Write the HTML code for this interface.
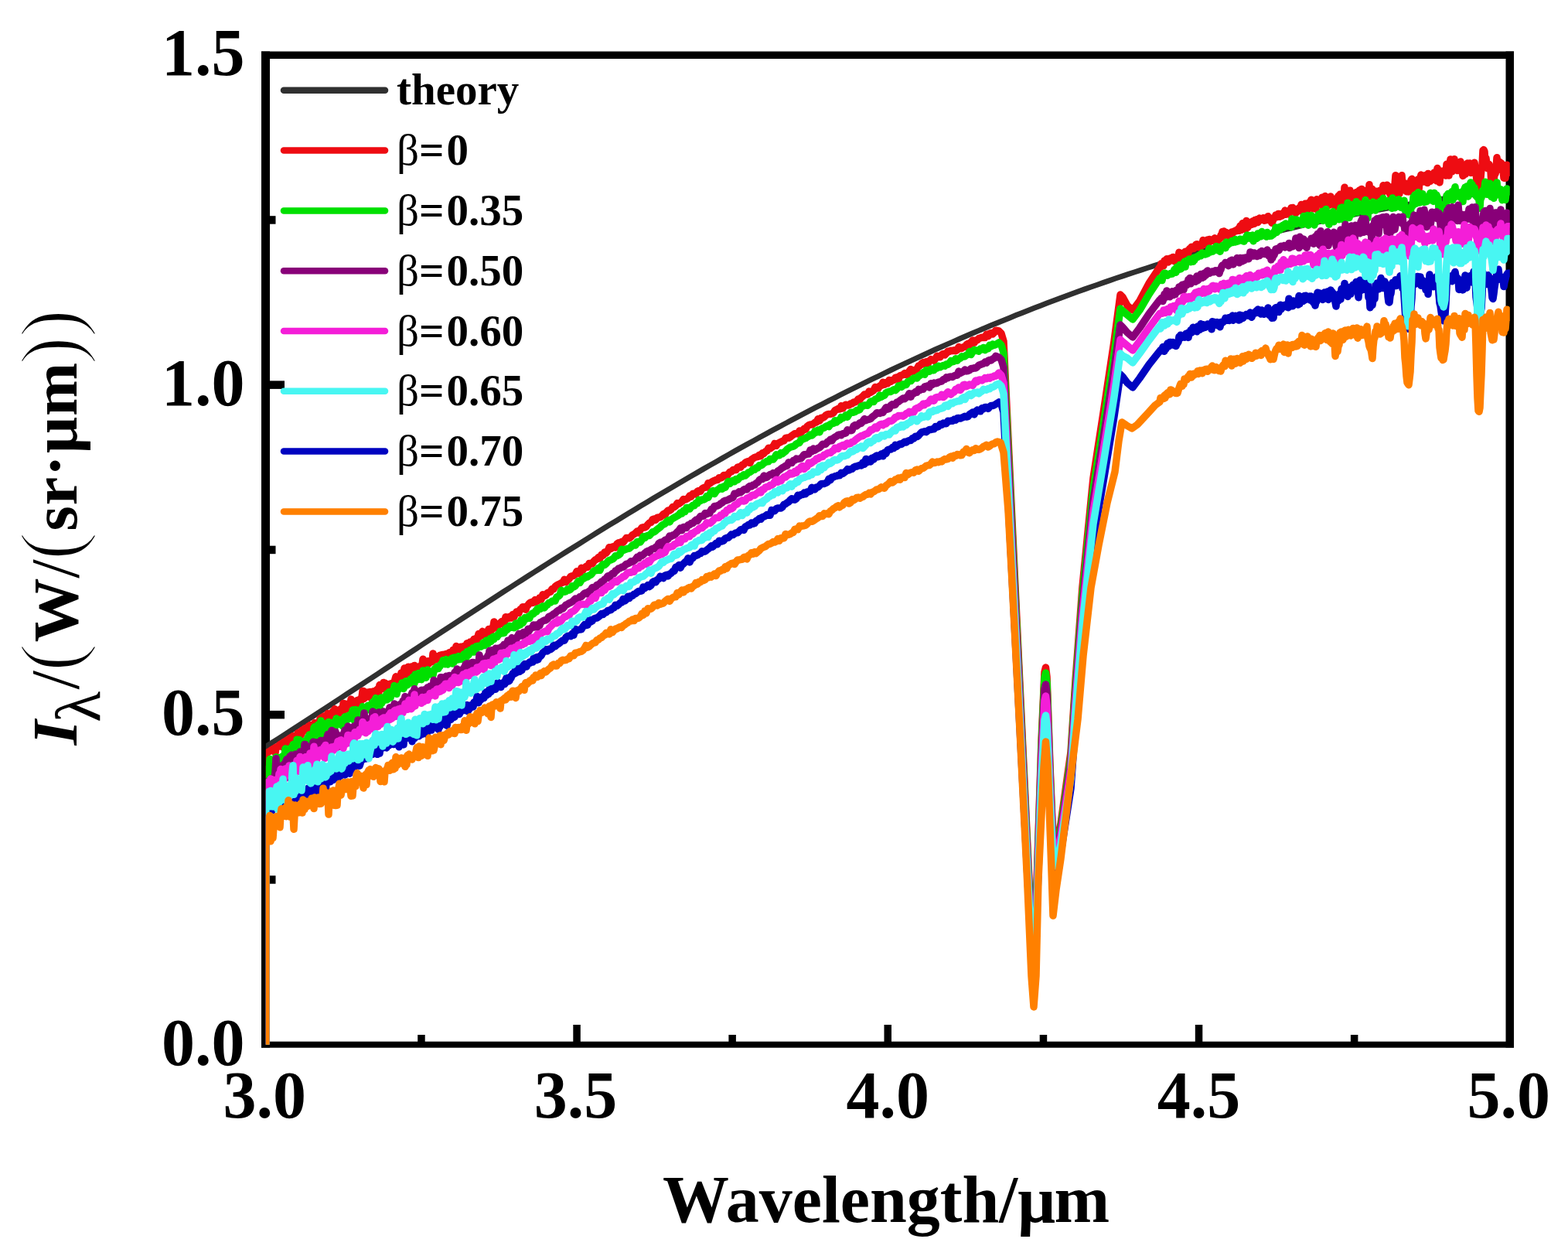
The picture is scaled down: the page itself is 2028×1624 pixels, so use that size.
<!DOCTYPE html>
<html><head><meta charset="utf-8"><title>Spectral radiance</title>
<style>html,body{margin:0;padding:0;background:#fff;overflow:hidden}svg{display:block}</style>
</head><body>
<svg width="2028" height="1624" viewBox="0 0 2028 1624">
<rect width="2028" height="1624" fill="#fff"/>
<defs><clipPath id="pa"><rect x="343.8" y="71.2" width="1609.0" height="1279.5"/></clipPath></defs>
<g fill="#000">
<rect x="338" y="66.5" width="11" height="1288"/>
<rect x="1947.5" y="66.5" width="10.5" height="1288"/>
<rect x="338" y="66.5" width="1620" height="9.5"/>
<rect x="338" y="1346.7" width="1620" height="8"/>
<rect x="540.2" y="1338" width="9.5" height="9"/>
<rect x="741.3" y="1325" width="9.5" height="22"/>
<rect x="942.4" y="1338" width="9.5" height="9"/>
<rect x="1143.5" y="1325" width="9.5" height="22"/>
<rect x="1344.7" y="1338" width="9.5" height="9"/>
<rect x="1545.8" y="1325" width="9.5" height="22"/>
<rect x="1746.9" y="1338" width="9.5" height="9"/>
<rect x="349" y="1132.2" width="7.5" height="10.5"/>
<rect x="349" y="918.9" width="19" height="10.5"/>
<rect x="349" y="705.7" width="7.5" height="10.5"/>
<rect x="349" y="492.4" width="19" height="10.5"/>
<rect x="349" y="279.2" width="7.5" height="10.5"/>
</g>
<g clip-path="url(#pa)" fill="none" stroke-width="9.5" stroke-linejoin="round" stroke-linecap="round">
<path stroke="#303030" stroke-width="7" d="M343.8 965.5L351.9 960.3L360.0 955.1L368.1 949.9L376.1 944.7L384.2 939.4L392.3 934.2L400.4 929.0L408.5 923.7L416.6 918.4L424.7 913.2L432.7 907.9L440.8 902.6L448.9 897.3L457.0 892.0L465.1 886.7L473.2 881.4L481.3 876.1L489.3 870.8L497.4 865.5L505.5 860.2L513.6 854.9L521.7 849.6L529.8 844.3L537.9 839.0L545.9 833.7L554.0 828.4L562.1 823.1L570.2 817.8L578.3 812.5L586.4 807.3L594.4 802.0L602.5 796.7L610.6 791.5L618.7 786.2L626.8 781.0L634.9 775.7L643.0 770.5L651.0 765.3L659.1 760.1L667.2 754.9L675.3 749.7L683.4 744.5L691.5 739.4L699.6 734.2L707.6 729.1L715.7 724.0L723.8 718.9L731.9 713.8L740.0 708.7L748.1 703.7L756.2 698.6L764.2 693.6L772.3 688.6L780.4 683.6L788.5 678.6L796.6 673.7L804.7 668.7L812.8 663.8L820.8 658.9L828.9 654.0L837.0 649.2L845.1 644.3L853.2 639.5L861.3 634.7L869.4 630.0L877.4 625.2L885.5 620.5L893.6 615.8L901.7 611.1L909.8 606.4L917.9 601.8L926.0 597.2L934.0 592.6L942.1 588.0L950.2 583.4L958.3 578.9L966.4 574.4L974.5 570.0L982.5 565.5L990.6 561.1L998.7 556.7L1006.8 552.4L1014.9 548.0L1023.0 543.7L1031.1 539.4L1039.1 535.2L1047.2 530.9L1055.3 526.7L1063.4 522.6L1071.5 518.4L1079.6 514.3L1087.7 510.2L1095.7 506.1L1103.8 502.1L1111.9 498.1L1120.0 494.1L1128.1 490.2L1136.2 486.3L1144.3 482.4L1152.3 478.5L1160.4 474.7L1168.5 470.9L1176.6 467.1L1184.7 463.4L1192.8 459.7L1200.9 456.0L1208.9 452.3L1217.0 448.7L1225.1 445.1L1233.2 441.6L1241.3 438.0L1249.4 434.5L1257.5 431.1L1265.5 427.6L1273.6 424.2L1281.7 420.8L1289.8 417.5L1297.9 414.2L1306.0 410.9L1314.1 407.6L1322.1 404.4L1330.2 401.2L1338.3 398.1L1346.4 394.9L1354.5 391.8L1362.6 388.8L1370.6 385.7L1378.7 382.7L1386.8 379.8L1394.9 376.8L1403.0 373.9L1411.1 371.0L1419.2 368.2L1427.2 365.4L1435.3 362.6L1443.4 359.8L1451.5 357.1L1459.6 354.4L1467.7 351.7L1475.8 349.1L1483.8 346.5L1491.9 343.9L1500.0 341.4L1508.1 338.9L1516.2 336.4L1524.3 333.9L1532.4 331.5L1540.4 329.1L1548.5 326.8L1556.6 324.4L1564.7 322.1L1572.8 319.9L1580.9 317.6L1589.0 315.4L1597.0 313.2L1605.1 311.1L1613.2 309.0L1621.3 306.9L1629.4 304.8L1637.5 302.8L1645.6 300.8L1653.6 298.8L1661.7 296.9L1669.8 295.0L1677.9 293.1L1686.0 291.2L1694.1 289.4L1702.2 287.6L1710.2 285.8L1718.3 284.1L1726.4 282.4L1734.5 280.7L1742.6 279.0L1750.7 277.4L1758.7 275.8L1766.8 274.2L1774.9 272.7L1783.0 271.2L1791.1 269.7L1799.2 268.2L1807.3 266.8L1815.3 265.4L1823.4 264.0L1831.5 262.6L1839.6 261.3L1847.7 260.0L1855.8 258.7L1863.9 257.5L1871.9 256.2L1880.0 255.1L1888.1 253.9L1896.2 252.7L1904.3 251.6L1912.4 250.5L1920.5 249.5L1928.5 248.4L1936.6 247.4L1944.7 246.4L1952.8 245.4"/>
<path stroke="#ee0c12" d="M343.8 1355.7L343.8 974.0L344.0 974.4L345.0 973.7L346.0 973.1L347.0 972.4L348.0 971.8L349.0 971.1L350.0 970.5L351.0 969.9L352.0 969.2L353.0 968.6L354.0 967.9L355.0 967.4L356.0 973.6L357.0 966.0L358.0 966.1L359.0 966.0L360.0 965.0L361.0 963.6L362.0 962.8L363.0 962.1L364.0 963.6L365.0 965.7L366.0 960.2L367.0 959.6L368.0 958.9L369.0 958.9L370.0 961.5L371.0 957.0L372.0 959.6L373.0 962.8L374.0 955.1L375.0 954.4L376.0 956.8L377.0 953.1L378.0 954.0L379.0 951.8L380.0 954.5L381.0 953.8L382.0 951.3L383.0 951.9L384.0 955.7L385.0 947.9L386.0 947.5L387.0 947.1L388.0 946.5L389.0 950.9L390.0 948.8L391.0 944.1L392.0 946.0L393.0 943.1L394.0 942.1L395.0 941.5L396.0 943.3L397.0 942.5L398.0 942.1L399.0 938.9L400.0 940.8L401.0 937.6L402.0 939.5L403.0 940.9L404.0 937.7L405.0 941.5L406.0 938.8L407.0 934.6L408.0 942.9L409.0 937.1L410.0 936.1L411.0 937.7L412.0 935.9L413.0 934.6L414.0 929.1L415.0 932.6L416.0 927.8L417.0 938.1L418.0 930.5L419.0 925.9L420.0 932.5L421.0 933.0L422.0 926.9L423.0 930.5L424.0 922.6L425.0 929.6L426.0 927.5L427.0 925.1L428.0 924.6L429.0 921.2L430.0 922.3L431.0 919.1L432.0 925.0L433.0 916.7L434.0 922.5L435.0 919.7L436.0 920.6L437.0 918.4L438.0 922.4L439.0 921.5L440.0 920.4L441.0 916.2L442.0 917.1L443.0 921.2L444.0 909.5L445.0 915.8L446.0 917.2L447.0 910.2L448.0 917.0L449.0 911.8L450.0 911.4L451.0 909.7L452.0 914.2L453.0 912.5L454.0 904.1L455.0 913.0L456.0 908.6L457.0 909.3L458.0 907.9L459.0 910.0L460.0 912.8L461.0 911.5L462.0 905.6L463.0 907.6L464.0 906.1L465.0 905.5L466.0 903.5L467.0 905.8L468.0 901.5L469.0 893.5L470.0 893.6L471.0 903.4L472.0 902.1L473.0 898.7L474.0 899.7L475.0 899.8L476.0 894.9L477.0 900.9L478.0 896.4L479.0 894.4L480.0 902.7L481.0 894.4L482.0 895.7L483.0 893.9L484.0 897.1L485.0 894.0L486.0 893.7L487.0 892.1L488.0 897.2L489.0 890.2L490.0 895.0L491.0 885.6L492.0 886.5L493.0 890.4L494.0 890.4L495.0 886.2L496.0 882.4L497.0 887.4L498.0 883.2L499.0 885.0L500.0 893.1L501.0 884.7L502.0 886.2L503.0 885.8L504.0 886.9L505.0 884.1L506.0 884.5L507.0 883.7L508.0 884.6L509.0 884.3L510.0 882.5L511.0 878.3L512.0 874.8L513.0 878.8L514.0 878.2L515.0 878.1L516.0 878.4L517.0 878.5L518.0 875.2L519.0 869.9L520.0 880.0L521.0 878.0L522.0 871.5L523.0 864.0L524.0 870.2L525.0 871.0L526.0 872.2L527.0 868.1L528.0 862.2L529.0 867.2L530.0 867.8L531.0 867.6L532.0 862.1L533.0 865.7L534.0 863.6L535.0 864.4L536.0 860.4L537.0 862.2L538.0 864.5L539.0 864.9L540.0 864.6L541.0 864.5L542.0 861.7L543.0 862.8L544.0 861.5L545.0 860.1L546.0 859.4L547.0 852.2L548.0 859.5L549.0 858.0L550.0 860.6L551.0 858.1L552.0 856.2L553.0 854.9L554.0 858.7L555.0 854.8L556.0 854.8L557.0 855.8L558.0 856.0L559.0 855.2L560.0 844.9L561.0 853.8L562.0 850.3L563.0 852.5L564.0 852.7L565.0 851.5L566.0 849.3L567.0 848.4L568.0 851.3L569.0 847.3L570.0 847.5L571.0 848.4L572.0 846.6L573.0 846.6L574.0 847.6L575.0 846.2L576.0 847.0L577.0 845.7L578.0 846.1L579.0 847.2L580.0 847.9L581.0 843.8L582.0 845.1L583.0 845.9L584.0 845.0L585.0 843.0L586.0 840.3L587.0 843.8L588.0 843.0L589.0 843.5L590.0 835.4L591.0 839.7L592.0 842.0L593.0 839.8L594.0 838.9L595.0 838.4L596.0 836.2L597.0 837.0L598.0 837.5L599.0 835.7L600.0 838.1L601.0 835.6L602.0 837.0L603.0 834.4L604.0 831.8L605.0 837.1L606.0 834.7L607.0 831.0L608.0 830.0L609.0 831.4L610.0 831.0L611.0 828.8L612.0 828.9L613.0 826.4L614.0 826.9L615.0 825.6L616.0 826.6L617.0 828.1L618.0 823.8L619.0 819.6L620.0 821.5L621.0 822.6L622.0 819.8L623.0 821.7L624.0 816.3L625.0 819.0L626.0 818.3L627.0 817.9L628.0 819.6L629.0 820.3L630.0 817.4L631.0 816.5L632.0 813.4L633.0 813.7L634.0 817.4L635.0 815.5L636.0 814.1L637.0 813.7L638.0 809.7L639.0 803.9L640.0 809.7L641.0 811.5L642.0 808.9L643.0 807.9L644.0 809.0L645.0 807.3L646.0 807.4L647.0 805.5L648.0 804.6L649.0 803.5L650.0 806.7L651.0 803.1L652.0 805.3L653.0 802.3L654.0 797.7L655.0 800.4L656.0 799.8L657.0 799.6L658.0 799.2L659.0 797.3L660.0 797.3L661.0 799.1L662.0 796.6L663.0 794.6L664.0 794.6L665.0 797.5L666.0 793.3L667.0 793.1L668.0 791.0L669.0 792.4L670.0 792.3L671.0 792.5L672.0 789.8L673.0 787.7L674.0 787.5L675.0 787.5L676.0 784.7L677.0 786.7L678.0 784.8L679.0 785.3L680.0 788.2L681.0 785.1L682.0 783.2L683.0 782.4L684.0 780.8L685.0 779.9L686.0 779.0L687.0 778.9L688.0 778.4L689.0 779.6L690.0 777.5L691.0 777.3L692.0 775.6L693.0 778.6L694.0 776.3L695.0 777.3L696.0 775.4L697.0 775.6L698.0 772.9L699.0 773.4L700.0 775.1L702.0 768.7L704.0 770.4L706.0 769.7L708.0 766.7L710.0 765.9L712.0 765.3L714.0 761.5L716.0 761.7L718.0 758.4L720.0 757.0L722.0 755.7L724.0 755.1L726.0 753.8L728.0 753.1L730.0 749.3L732.0 752.7L734.0 750.3L736.0 748.6L738.0 745.5L740.0 744.8L742.0 744.3L744.0 742.8L746.0 738.8L748.0 740.8L750.0 742.1L752.0 734.3L754.0 736.9L756.0 734.4L758.0 732.5L760.0 733.3L762.0 728.5L764.0 728.8L766.0 729.1L768.0 725.7L770.0 723.9L772.0 723.0L774.0 720.7L776.0 722.0L778.0 717.2L780.0 718.3L782.0 713.9L784.0 715.0L786.0 712.4L788.0 707.7L790.0 709.7L792.0 707.2L794.0 706.7L796.0 708.0L798.0 703.2L800.0 701.8L802.0 703.8L804.0 700.7L806.0 701.4L808.0 698.5L810.0 695.6L812.0 695.5L814.0 695.9L816.0 694.2L818.0 691.7L820.0 690.7L822.0 689.1L824.0 687.1L826.0 689.1L828.0 685.2L830.0 682.4L832.0 681.8L834.0 682.0L836.0 680.7L838.0 678.0L840.0 676.0L842.0 675.4L844.0 671.7L846.0 671.0L848.0 672.4L850.0 669.3L852.0 669.1L854.0 668.8L856.0 666.9L858.0 664.7L860.0 666.0L862.0 662.4L864.0 660.0L866.0 660.1L868.0 658.6L870.0 655.5L872.0 655.6L874.0 654.2L876.0 650.7L878.0 651.5L880.0 650.0L882.0 648.5L884.0 645.5L886.0 646.1L888.0 645.3L890.0 644.1L892.0 641.1L894.0 642.0L896.0 638.5L898.0 638.1L900.0 639.0L902.0 635.2L904.0 634.5L906.0 635.1L908.0 632.0L910.0 630.7L912.0 630.1L914.0 630.1L916.0 624.7L918.0 625.0L920.0 623.6L922.0 622.3L924.0 621.4L926.0 620.4L928.0 620.6L930.0 617.7L932.0 617.9L934.0 617.2L936.0 614.5L938.0 614.5L940.0 615.8L942.0 612.8L944.0 610.4L946.0 609.8L948.0 607.5L950.0 607.8L952.0 607.6L954.0 604.1L956.0 603.7L958.0 604.1L960.0 600.9L962.0 600.7L964.0 598.0L966.0 597.1L968.0 596.3L970.0 598.6L972.0 594.1L974.0 592.9L976.0 591.5L978.0 590.9L980.0 590.5L982.0 588.4L984.0 589.7L986.0 585.9L988.0 586.4L990.0 583.8L992.0 583.1L994.0 579.3L996.0 579.9L998.0 578.6L1000.0 577.2L1002.0 573.4L1004.0 576.3L1006.0 573.4L1008.0 572.3L1010.0 571.4L1012.0 570.3L1014.0 569.9L1016.0 566.6L1018.0 565.9L1020.0 566.3L1022.0 565.2L1024.0 563.4L1026.0 562.1L1028.0 560.7L1030.0 560.5L1032.0 561.0L1034.0 557.0L1036.0 559.3L1038.0 557.1L1040.0 554.4L1042.0 555.1L1044.0 551.2L1046.0 549.7L1048.0 549.0L1050.0 549.1L1052.0 548.0L1054.0 546.3L1056.0 546.0L1058.0 541.7L1060.0 544.0L1062.0 540.2L1064.0 540.2L1066.0 539.2L1068.0 537.1L1070.0 535.9L1072.0 535.5L1074.0 535.5L1076.0 535.0L1078.0 533.7L1080.0 530.6L1082.0 529.7L1084.0 528.4L1086.0 529.0L1088.0 524.8L1090.0 528.0L1092.0 524.6L1094.0 523.2L1096.0 524.0L1098.0 523.9L1100.0 522.1L1102.0 522.1L1104.0 519.9L1106.0 520.0L1108.0 518.8L1110.0 516.0L1112.0 516.7L1114.0 513.8L1116.0 512.4L1118.0 510.0L1120.0 509.8L1122.0 510.1L1124.0 506.0L1126.0 507.4L1128.0 506.0L1130.0 504.7L1132.0 500.4L1134.0 502.1L1136.0 502.0L1138.0 498.7L1140.0 498.6L1142.0 494.3L1144.0 497.3L1146.0 494.6L1148.0 495.8L1150.0 491.4L1152.0 493.6L1154.0 491.4L1156.0 491.6L1158.0 488.4L1160.0 487.9L1162.0 490.8L1164.0 485.8L1166.0 485.2L1168.0 484.7L1170.0 482.7L1172.0 484.5L1174.0 484.3L1176.0 480.0L1178.0 477.4L1180.0 480.4L1182.0 479.4L1184.0 478.0L1186.0 477.1L1188.0 473.0L1190.0 472.8L1192.0 470.0L1194.0 468.7L1196.0 470.7L1198.0 467.6L1200.0 470.4L1202.0 466.5L1204.0 464.7L1206.0 465.7L1208.0 466.3L1210.0 463.6L1212.0 460.3L1214.0 461.5L1216.0 461.7L1218.0 458.6L1220.0 457.5L1222.0 458.9L1224.0 456.8L1226.0 454.2L1228.0 454.6L1230.0 453.3L1232.0 453.7L1234.0 452.8L1236.0 453.8L1238.0 452.5L1240.0 448.6L1242.0 450.3L1244.0 450.4L1246.0 448.8L1248.0 448.6L1250.0 445.6L1252.0 444.4L1254.0 446.0L1256.0 442.3L1258.0 440.0L1260.0 443.3L1262.0 440.0L1264.0 439.8L1266.0 437.6L1268.0 437.0L1270.0 436.2L1272.0 436.5L1274.0 436.6L1276.0 432.2L1278.0 434.8L1280.0 431.3L1282.0 430.6L1284.0 431.9L1286.0 429.9L1288.0 427.2L1292.0 428.0L1295.0 431.0L1298.0 441.0L1300.0 483.3L1303.0 546.8L1306.0 610.3L1309.0 673.7L1312.0 737.2L1315.0 800.7L1318.0 864.2L1321.0 927.6L1324.0 991.1L1327.0 1054.6L1330.0 1118.1L1333.0 1181.5L1336.0 1245.0L1338.0 1240.0L1342.0 1111.3L1347.0 958.5L1351.0 869.0L1352.5 863.0L1354.0 875.0L1358.0 990.6L1362.0 1087.0L1365.0 1095.0L1372.0 1064.9L1385.0 972.5L1391.0 880.1L1400.0 758.6L1414.0 618.0L1428.0 527.6L1441.0 441.3L1449.0 381.0L1452.0 384.0L1458.0 395.0L1465.0 401.0L1474.0 389.0L1486.0 366.5L1500.0 345.4L1501.0 345.6L1502.0 340.7L1503.0 344.2L1504.0 342.0L1505.0 343.6L1506.0 337.1L1507.0 339.7L1508.0 337.8L1509.0 334.8L1510.0 336.2L1511.0 339.0L1512.0 335.4L1513.0 334.1L1514.0 337.0L1515.0 336.5L1516.0 335.9L1517.0 332.4L1518.0 334.7L1519.0 337.8L1520.0 334.5L1521.0 334.0L1522.0 337.1L1523.0 337.4L1524.0 331.1L1525.0 326.3L1526.0 328.1L1527.0 328.3L1528.0 329.3L1529.0 330.5L1530.0 328.8L1531.0 326.9L1532.0 328.1L1533.0 325.2L1534.0 326.4L1535.0 324.8L1536.0 330.6L1537.0 326.4L1538.0 322.4L1539.0 321.3L1540.0 322.4L1541.0 319.3L1542.0 319.9L1543.0 319.3L1544.0 321.4L1545.0 318.9L1546.0 317.4L1547.0 316.0L1548.0 315.7L1549.0 317.1L1550.0 316.6L1551.0 319.8L1552.0 315.9L1553.0 319.1L1554.0 316.6L1555.0 315.3L1556.0 310.6L1557.0 311.9L1558.0 314.8L1559.0 315.7L1560.0 312.5L1561.0 313.3L1562.0 310.0L1563.0 310.0L1564.0 309.4L1565.0 312.5L1566.0 311.3L1567.0 310.3L1568.0 309.8L1569.0 310.9L1570.0 310.1L1571.0 307.8L1572.0 312.0L1573.0 309.0L1574.0 308.7L1575.0 311.4L1576.0 310.5L1577.0 307.9L1578.0 308.4L1579.0 304.3L1580.0 304.2L1581.0 299.5L1582.0 305.7L1583.0 298.9L1584.0 304.2L1585.0 301.2L1586.0 300.6L1587.0 302.0L1588.0 303.2L1589.0 303.6L1590.0 305.7L1591.0 302.6L1592.0 303.5L1593.0 299.9L1594.0 301.8L1595.0 300.7L1596.0 298.9L1597.0 298.8L1598.0 298.1L1599.0 298.7L1600.0 298.6L1601.0 296.3L1602.0 295.3L1603.0 298.2L1604.0 292.1L1605.0 294.0L1606.0 297.3L1607.0 288.7L1608.0 291.9L1609.0 294.2L1610.0 289.0L1611.0 296.7L1612.0 285.4L1613.0 293.5L1614.0 293.9L1615.0 292.1L1616.0 289.3L1617.0 290.0L1618.0 287.3L1619.0 290.3L1620.0 286.1L1621.0 287.3L1622.0 289.5L1623.0 284.5L1624.0 286.1L1625.0 286.9L1626.0 283.5L1627.0 287.6L1628.0 286.0L1629.0 282.0L1630.0 284.8L1631.0 283.0L1632.0 283.2L1633.0 284.0L1634.0 281.7L1635.0 285.2L1636.0 282.3L1637.0 284.9L1638.0 282.0L1639.0 283.3L1640.0 279.7L1641.0 280.9L1642.0 281.3L1643.0 285.6L1644.0 286.0L1645.0 288.2L1646.0 286.1L1647.0 283.3L1648.0 281.3L1649.0 280.9L1650.0 278.0L1651.0 280.7L1652.0 279.6L1653.0 276.6L1654.0 276.5L1655.0 280.3L1656.0 277.9L1657.0 276.6L1658.0 279.1L1659.0 276.3L1660.0 276.6L1661.0 276.0L1662.0 272.1L1663.0 277.3L1664.0 272.9L1665.0 274.0L1666.0 273.9L1667.0 276.9L1668.0 273.7L1669.0 273.1L1670.0 268.8L1671.0 272.2L1672.0 268.4L1673.0 272.6L1674.0 272.6L1675.0 270.5L1676.0 275.7L1677.0 272.1L1678.0 272.1L1679.0 270.3L1680.0 269.0L1681.0 272.3L1682.0 272.8L1683.0 264.5L1684.0 271.7L1685.0 270.2L1686.0 271.1L1687.0 269.5L1688.0 263.3L1689.0 263.9L1690.0 274.6L1691.0 268.8L1692.0 262.5L1693.0 268.3L1694.0 265.5L1695.0 260.2L1696.0 258.2L1697.0 262.4L1698.0 269.8L1699.0 268.5L1700.0 267.6L1701.0 269.9L1702.0 270.2L1703.0 257.8L1704.0 263.6L1705.0 260.7L1706.0 257.9L1707.0 260.9L1708.0 262.3L1709.0 260.7L1710.0 255.2L1711.0 259.8L1712.0 270.6L1713.0 256.4L1714.0 253.5L1715.0 262.6L1716.0 263.8L1717.0 262.8L1718.0 255.3L1719.0 265.3L1720.0 256.0L1721.0 254.0L1722.0 256.3L1723.0 258.7L1724.0 263.0L1725.0 263.5L1726.0 261.2L1727.0 267.0L1728.0 262.7L1729.0 267.3L1730.0 255.3L1731.0 253.3L1732.0 263.5L1733.0 251.3L1734.0 255.4L1735.0 256.4L1736.0 253.6L1737.0 253.6L1738.0 262.0L1739.0 242.2L1740.0 258.8L1741.0 266.0L1742.0 254.0L1743.0 253.5L1744.0 256.6L1745.0 261.9L1746.0 246.3L1747.0 252.2L1748.0 251.3L1749.0 254.8L1750.0 253.0L1751.0 255.9L1752.0 250.1L1753.0 251.9L1754.0 248.6L1755.0 249.2L1756.0 251.7L1757.0 250.9L1758.0 246.1L1759.0 259.3L1760.0 250.9L1761.0 244.4L1762.0 257.1L1763.0 247.0L1764.0 253.1L1765.0 250.4L1766.0 250.9L1767.0 250.0L1768.0 245.9L1769.0 248.7L1770.0 259.6L1771.0 238.7L1772.0 251.1L1773.0 253.0L1774.0 245.6L1775.0 244.6L1776.0 261.8L1777.0 248.3L1778.0 259.0L1779.0 250.1L1780.0 247.3L1781.0 249.3L1782.0 249.0L1783.0 251.9L1784.0 247.9L1785.0 246.1L1786.0 245.9L1787.0 251.5L1788.0 248.7L1789.0 239.8L1790.0 241.2L1791.0 246.5L1792.0 241.0L1793.0 241.8L1794.0 239.2L1795.0 243.5L1796.0 247.2L1797.0 249.7L1798.0 244.5L1799.0 254.4L1800.0 241.7L1801.0 257.1L1802.0 245.5L1803.0 243.5L1804.0 238.8L1805.0 226.7L1806.0 240.0L1807.0 241.1L1808.0 249.5L1809.0 233.7L1810.0 250.2L1811.0 239.4L1812.0 244.2L1813.0 226.7L1814.0 240.1L1815.0 237.8L1816.0 244.8L1817.0 242.7L1818.0 237.1L1819.0 247.7L1820.0 247.0L1821.0 246.3L1822.0 247.9L1823.0 247.7L1824.0 240.9L1825.0 232.8L1826.0 231.3L1827.0 243.6L1828.0 240.4L1829.0 237.3L1830.0 234.2L1831.0 237.1L1832.0 236.2L1833.0 234.3L1834.0 232.0L1835.0 245.8L1836.0 235.2L1837.0 230.1L1838.0 226.0L1839.0 228.3L1840.0 234.9L1841.0 234.9L1842.0 232.0L1843.0 226.7L1844.0 234.3L1845.0 228.5L1846.0 236.6L1847.0 224.4L1848.0 231.0L1849.0 228.8L1850.0 234.3L1851.0 228.4L1852.0 230.6L1853.0 227.7L1854.0 225.8L1855.0 222.9L1856.0 230.3L1857.0 228.2L1858.0 233.8L1859.0 217.6L1860.0 221.3L1861.0 231.3L1862.0 235.9L1863.0 224.7L1864.0 221.2L1865.0 224.4L1866.0 226.3L1867.0 220.9L1868.0 220.5L1869.0 224.7L1870.0 227.1L1871.0 212.3L1872.0 219.5L1873.0 211.6L1874.0 227.0L1875.0 211.7L1876.0 206.0L1877.0 212.8L1878.0 221.8L1879.0 207.6L1880.0 214.9L1881.0 205.8L1882.0 215.2L1883.0 218.5L1884.0 215.1L1885.0 220.5L1886.0 211.9L1887.0 213.5L1888.0 217.8L1889.0 209.0L1890.0 213.1L1891.0 221.9L1892.0 227.4L1893.0 213.6L1894.0 218.0L1895.0 225.3L1896.0 213.8L1897.0 215.5L1898.0 211.1L1899.0 222.4L1900.0 221.1L1901.0 211.0L1902.0 223.5L1903.0 216.0L1904.0 215.8L1905.0 219.0L1906.0 219.5L1907.0 210.3L1908.0 216.5L1909.0 222.4L1910.0 235.9L1911.0 230.0L1912.0 242.5L1913.0 227.3L1914.0 232.0L1915.0 230.3L1916.0 218.7L1917.0 213.7L1918.0 194.4L1919.0 193.6L1920.0 195.9L1921.0 211.2L1922.0 204.7L1923.0 213.0L1924.0 217.9L1925.0 214.0L1926.0 212.5L1927.0 219.0L1928.0 221.0L1929.0 238.7L1930.0 230.0L1931.0 231.7L1932.0 236.6L1933.0 221.8L1934.0 225.0L1935.0 219.6L1936.0 203.8L1937.0 209.3L1938.0 210.4L1939.0 209.1L1940.0 210.3L1941.0 210.4L1942.0 211.2L1943.0 220.9L1944.0 218.7L1945.0 230.2L1946.0 225.8L1947.0 230.2L1948.0 219.1L1949.0 213.2L1950.0 223.0L1956.0 223.0"/>
<path stroke="#00e000" d="M343.8 1355.7L343.8 995.0L344.0 996.6L345.0 1007.1L346.0 1011.5L347.0 1002.5L348.0 997.4L349.0 981.6L350.0 987.5L351.0 986.6L352.0 998.1L353.0 990.6L354.0 993.3L355.0 989.2L356.0 995.9L357.0 978.9L358.0 984.1L359.0 989.9L360.0 979.8L361.0 984.4L362.0 981.6L363.0 979.9L364.0 984.1L365.0 978.1L366.0 979.5L367.0 980.2L368.0 979.7L369.0 968.1L370.0 973.6L371.0 980.2L372.0 979.3L373.0 975.7L374.0 971.1L375.0 967.9L376.0 967.1L377.0 967.3L378.0 972.0L379.0 962.6L380.0 970.0L381.0 971.5L382.0 969.9L383.0 969.9L384.0 956.2L385.0 961.2L386.0 967.2L387.0 956.6L388.0 970.0L389.0 959.6L390.0 961.5L391.0 958.6L392.0 962.5L393.0 970.2L394.0 960.7L395.0 958.4L396.0 964.9L397.0 958.0L398.0 953.6L399.0 959.3L400.0 950.0L401.0 953.7L402.0 959.3L403.0 950.0L404.0 958.8L405.0 950.4L406.0 941.0L407.0 939.7L408.0 952.1L409.0 956.3L410.0 948.5L411.0 937.3L412.0 957.3L413.0 943.5L414.0 943.5L415.0 931.9L416.0 935.9L417.0 946.3L418.0 935.3L419.0 949.2L420.0 937.1L421.0 936.9L422.0 936.1L423.0 937.5L424.0 939.3L425.0 933.5L426.0 936.3L427.0 946.3L428.0 944.1L429.0 934.5L430.0 939.8L431.0 937.3L432.0 940.0L433.0 941.7L434.0 933.9L435.0 929.0L436.0 933.1L437.0 930.8L438.0 930.5L439.0 936.2L440.0 932.4L441.0 934.4L442.0 930.6L443.0 938.8L444.0 931.1L445.0 932.6L446.0 926.8L447.0 932.6L448.0 931.3L449.0 926.0L450.0 930.2L451.0 926.7L452.0 926.3L453.0 923.8L454.0 924.2L455.0 929.1L456.0 918.3L457.0 917.8L458.0 931.4L459.0 920.3L460.0 917.5L461.0 926.6L462.0 925.1L463.0 920.2L464.0 918.3L465.0 921.9L466.0 922.5L467.0 919.9L468.0 917.7L469.0 913.5L470.0 917.3L471.0 923.2L472.0 916.1L473.0 915.2L474.0 918.1L475.0 918.0L476.0 912.2L477.0 915.3L478.0 913.1L479.0 914.5L480.0 910.6L481.0 912.7L482.0 907.8L483.0 907.5L484.0 905.9L485.0 910.7L486.0 902.6L487.0 913.4L488.0 908.9L489.0 907.6L490.0 908.8L491.0 914.3L492.0 904.9L493.0 902.1L494.0 908.8L495.0 905.4L496.0 902.0L497.0 902.9L498.0 900.4L499.0 904.9L500.0 897.2L501.0 904.7L502.0 901.8L503.0 894.7L504.0 895.5L505.0 902.3L506.0 898.6L507.0 893.8L508.0 892.2L509.0 893.6L510.0 886.6L511.0 896.1L512.0 888.1L513.0 897.3L514.0 891.9L515.0 889.3L516.0 891.1L517.0 888.6L518.0 886.1L519.0 888.6L520.0 883.0L521.0 883.9L522.0 890.5L523.0 887.3L524.0 885.5L525.0 880.7L526.0 882.5L527.0 885.7L528.0 881.9L529.0 883.8L530.0 881.4L531.0 877.9L532.0 883.0L533.0 879.3L534.0 875.2L535.0 883.4L536.0 883.3L537.0 872.0L538.0 873.2L539.0 872.4L540.0 875.7L541.0 870.6L542.0 878.4L543.0 875.6L544.0 877.2L545.0 878.7L546.0 872.2L547.0 866.9L548.0 875.9L549.0 874.0L550.0 876.2L551.0 876.2L552.0 873.0L553.0 866.0L554.0 870.7L555.0 868.8L556.0 871.6L557.0 868.6L558.0 872.0L559.0 870.1L560.0 872.8L561.0 868.0L562.0 865.1L563.0 865.9L564.0 863.3L565.0 862.1L566.0 864.6L567.0 864.6L568.0 862.1L569.0 861.7L570.0 859.0L571.0 858.9L572.0 858.9L573.0 853.7L574.0 854.3L575.0 856.6L576.0 858.7L577.0 852.6L578.0 857.2L579.0 859.0L580.0 855.7L581.0 857.0L582.0 857.4L583.0 854.9L584.0 851.3L585.0 858.0L586.0 850.4L587.0 856.3L588.0 850.0L589.0 851.6L590.0 851.5L591.0 851.9L592.0 853.1L593.0 848.6L594.0 850.5L595.0 852.5L596.0 852.2L597.0 852.2L598.0 851.3L599.0 848.9L600.0 845.8L601.0 849.4L602.0 846.1L603.0 850.6L604.0 842.4L605.0 845.2L606.0 846.9L607.0 842.4L608.0 840.5L609.0 843.4L610.0 842.3L611.0 840.2L612.0 837.7L613.0 843.1L614.0 838.8L615.0 841.6L616.0 835.7L617.0 838.3L618.0 835.3L619.0 835.9L620.0 836.4L621.0 835.3L622.0 836.2L623.0 834.5L624.0 832.3L625.0 830.9L626.0 831.6L627.0 834.5L628.0 830.6L629.0 828.1L630.0 832.3L631.0 832.2L632.0 827.4L633.0 829.2L634.0 825.6L635.0 829.5L636.0 827.4L637.0 825.9L638.0 823.3L639.0 826.4L640.0 822.9L641.0 822.8L642.0 823.2L643.0 823.3L644.0 820.5L645.0 820.8L646.0 818.3L647.0 816.4L648.0 818.5L649.0 818.3L650.0 818.8L651.0 815.9L652.0 818.4L653.0 813.8L654.0 815.7L655.0 811.8L656.0 814.3L657.0 813.1L658.0 812.1L659.0 809.3L660.0 810.5L661.0 811.0L662.0 811.2L663.0 810.1L664.0 810.9L665.0 811.8L666.0 807.8L667.0 806.1L668.0 810.4L669.0 805.8L670.0 808.3L671.0 808.5L672.0 806.6L673.0 807.8L674.0 801.6L675.0 804.3L676.0 805.5L677.0 804.0L678.0 800.6L679.0 798.6L680.0 800.6L681.0 799.1L682.0 799.7L683.0 797.9L684.0 796.6L685.0 799.2L686.0 795.8L687.0 795.2L688.0 793.3L689.0 792.9L690.0 793.7L691.0 792.7L692.0 791.4L693.0 789.7L694.0 790.9L695.0 787.1L696.0 788.1L697.0 787.8L698.0 786.2L699.0 787.3L700.0 785.3L702.0 784.0L704.0 786.0L706.0 783.1L708.0 782.0L710.0 779.4L712.0 779.1L714.0 777.4L716.0 776.8L718.0 776.9L720.0 772.0L722.0 771.2L724.0 769.4L726.0 763.3L728.0 764.8L730.0 765.2L732.0 764.6L734.0 761.9L736.0 762.9L738.0 761.9L740.0 757.8L742.0 759.0L744.0 757.8L746.0 754.6L748.0 751.4L750.0 753.5L752.0 749.9L754.0 748.3L756.0 747.5L758.0 745.2L760.0 746.0L762.0 744.0L764.0 743.4L766.0 741.2L768.0 738.2L770.0 737.6L772.0 737.4L774.0 734.5L776.0 737.3L778.0 731.6L780.0 729.6L782.0 730.5L784.0 728.7L786.0 726.2L788.0 724.4L790.0 724.1L792.0 723.1L794.0 721.6L796.0 718.8L798.0 718.6L800.0 717.7L802.0 716.2L804.0 710.2L806.0 711.6L808.0 710.7L810.0 710.0L812.0 709.4L814.0 709.0L816.0 707.2L818.0 705.0L820.0 703.9L822.0 704.9L824.0 700.6L826.0 700.5L828.0 701.0L830.0 698.1L832.0 693.7L834.0 695.5L836.0 693.1L838.0 692.3L840.0 692.5L842.0 690.2L844.0 687.8L846.0 688.0L848.0 686.3L850.0 684.4L852.0 683.1L854.0 681.5L856.0 679.3L858.0 678.1L860.0 677.3L862.0 674.8L864.0 673.0L866.0 675.0L868.0 671.7L870.0 670.5L872.0 669.2L874.0 668.2L876.0 667.0L878.0 665.9L880.0 663.2L882.0 664.0L884.0 660.4L886.0 661.6L888.0 656.5L890.0 656.5L892.0 658.0L894.0 655.4L896.0 653.5L898.0 653.7L900.0 650.4L902.0 650.7L904.0 646.3L906.0 647.6L908.0 646.0L910.0 646.0L912.0 645.2L914.0 641.6L916.0 643.2L918.0 639.2L920.0 636.0L922.0 634.5L924.0 638.5L926.0 635.5L928.0 633.5L930.0 632.2L932.0 630.4L934.0 632.2L936.0 629.1L938.0 630.2L940.0 626.4L942.0 622.4L944.0 625.3L946.0 622.6L948.0 621.4L950.0 622.8L952.0 619.6L954.0 620.5L956.0 618.1L958.0 616.1L960.0 616.3L962.0 613.8L964.0 614.9L966.0 613.2L968.0 610.9L970.0 610.5L972.0 609.0L974.0 606.8L976.0 607.3L978.0 604.7L980.0 604.9L982.0 601.8L984.0 601.9L986.0 601.0L988.0 598.3L990.0 597.8L992.0 596.3L994.0 596.8L996.0 593.5L998.0 593.7L1000.0 594.1L1002.0 591.5L1004.0 587.8L1006.0 588.7L1008.0 588.8L1010.0 585.6L1012.0 586.6L1014.0 584.9L1016.0 583.4L1018.0 581.0L1020.0 579.5L1022.0 578.3L1024.0 577.7L1026.0 577.2L1028.0 576.0L1030.0 573.9L1032.0 572.9L1034.0 572.5L1036.0 568.4L1038.0 568.2L1040.0 567.1L1042.0 566.5L1044.0 565.1L1046.0 564.0L1048.0 562.1L1050.0 563.0L1052.0 561.4L1054.0 557.6L1056.0 558.8L1058.0 556.0L1060.0 558.7L1062.0 554.7L1064.0 553.7L1066.0 553.2L1068.0 551.5L1070.0 550.6L1072.0 551.5L1074.0 548.5L1076.0 547.8L1078.0 547.4L1080.0 543.7L1082.0 546.0L1084.0 543.7L1086.0 543.2L1088.0 539.4L1090.0 540.6L1092.0 539.1L1094.0 536.8L1096.0 539.2L1098.0 535.8L1100.0 533.7L1102.0 533.2L1104.0 533.2L1106.0 532.4L1108.0 530.6L1110.0 530.4L1112.0 529.6L1114.0 525.2L1116.0 525.3L1118.0 524.0L1120.0 523.9L1122.0 524.3L1124.0 522.3L1126.0 519.1L1128.0 518.8L1130.0 519.4L1132.0 516.2L1134.0 515.5L1136.0 514.9L1138.0 511.0L1140.0 513.2L1142.0 511.8L1144.0 511.0L1146.0 507.8L1148.0 506.9L1150.0 506.2L1152.0 506.4L1154.0 505.0L1156.0 503.8L1158.0 504.6L1160.0 502.9L1162.0 499.1L1164.0 498.5L1166.0 500.5L1168.0 496.7L1170.0 498.0L1172.0 497.5L1174.0 493.7L1176.0 492.8L1178.0 492.6L1180.0 490.2L1182.0 488.9L1184.0 488.5L1186.0 489.0L1188.0 486.2L1190.0 485.3L1192.0 483.8L1194.0 481.5L1196.0 484.3L1198.0 478.4L1200.0 479.8L1202.0 480.3L1204.0 477.1L1206.0 478.7L1208.0 478.7L1210.0 475.2L1212.0 475.9L1214.0 473.2L1216.0 474.7L1218.0 473.4L1220.0 472.4L1222.0 473.2L1224.0 471.1L1226.0 471.3L1228.0 469.6L1230.0 466.5L1232.0 467.8L1234.0 467.2L1236.0 463.8L1238.0 466.3L1240.0 463.8L1242.0 463.2L1244.0 460.8L1246.0 461.2L1248.0 460.8L1250.0 459.0L1252.0 458.5L1254.0 454.6L1256.0 458.5L1258.0 454.4L1260.0 452.4L1262.0 453.5L1264.0 452.9L1266.0 454.1L1268.0 451.2L1270.0 451.9L1272.0 449.4L1274.0 452.7L1276.0 449.8L1278.0 450.8L1280.0 446.3L1282.0 447.8L1284.0 445.0L1286.0 446.3L1288.0 445.6L1292.0 443.0L1295.0 446.0L1298.0 456.0L1300.0 497.8L1303.0 560.5L1306.0 623.2L1309.0 685.8L1312.0 748.5L1315.0 811.2L1318.0 873.9L1321.0 936.6L1324.0 999.3L1327.0 1061.9L1330.0 1124.6L1333.0 1187.3L1336.0 1250.0L1338.0 1245.0L1342.0 1117.0L1347.0 965.0L1351.0 876.0L1352.5 870.0L1354.0 882.0L1358.0 996.5L1362.0 1092.0L1365.0 1100.0L1372.0 1070.4L1385.0 979.7L1391.0 889.0L1400.0 769.7L1414.0 631.7L1428.0 542.9L1441.0 458.2L1449.0 399.0L1452.0 402.0L1458.0 407.0L1465.0 413.0L1474.0 401.0L1486.0 380.5L1500.0 359.7L1501.0 361.4L1502.0 359.2L1503.0 362.6L1504.0 357.0L1505.0 354.2L1506.0 353.2L1507.0 353.3L1508.0 355.4L1509.0 354.8L1510.0 356.2L1511.0 354.5L1512.0 354.2L1513.0 354.7L1514.0 353.7L1515.0 354.2L1516.0 354.1L1517.0 352.9L1518.0 350.7L1519.0 348.5L1520.0 350.5L1521.0 352.2L1522.0 345.2L1523.0 348.1L1524.0 348.7L1525.0 344.1L1526.0 342.5L1527.0 347.9L1528.0 347.2L1529.0 343.1L1530.0 345.0L1531.0 344.9L1532.0 338.3L1533.0 345.0L1534.0 337.6L1535.0 338.6L1536.0 336.5L1537.0 338.1L1538.0 335.1L1539.0 337.4L1540.0 338.7L1541.0 336.9L1542.0 335.3L1543.0 338.3L1544.0 333.2L1545.0 336.2L1546.0 332.7L1547.0 332.8L1548.0 331.9L1549.0 332.4L1550.0 331.8L1551.0 329.9L1552.0 329.4L1553.0 330.8L1554.0 329.3L1555.0 327.0L1556.0 327.8L1557.0 327.9L1558.0 328.4L1559.0 328.9L1560.0 328.7L1561.0 327.0L1562.0 328.0L1563.0 324.7L1564.0 321.1L1565.0 326.2L1566.0 321.9L1567.0 323.2L1568.0 321.8L1569.0 324.9L1570.0 321.0L1571.0 322.5L1572.0 320.7L1573.0 318.6L1574.0 318.9L1575.0 323.6L1576.0 323.5L1577.0 324.4L1578.0 325.3L1579.0 321.1L1580.0 320.6L1581.0 317.5L1582.0 318.3L1583.0 316.9L1584.0 315.6L1585.0 320.7L1586.0 313.1L1587.0 317.4L1588.0 316.8L1589.0 315.6L1590.0 313.4L1591.0 314.3L1592.0 313.3L1593.0 311.6L1594.0 313.6L1595.0 311.5L1596.0 310.7L1597.0 313.1L1598.0 309.5L1599.0 312.5L1600.0 310.3L1601.0 312.0L1602.0 311.3L1603.0 311.2L1604.0 309.2L1605.0 309.5L1606.0 309.4L1607.0 311.5L1608.0 311.8L1609.0 312.1L1610.0 308.7L1611.0 309.5L1612.0 305.9L1613.0 304.1L1614.0 307.0L1615.0 306.9L1616.0 304.6L1617.0 304.8L1618.0 308.8L1619.0 305.8L1620.0 304.1L1621.0 311.7L1622.0 307.0L1623.0 305.4L1624.0 307.4L1625.0 304.5L1626.0 308.2L1627.0 302.0L1628.0 302.1L1629.0 303.7L1630.0 302.1L1631.0 305.7L1632.0 299.5L1633.0 301.2L1634.0 303.0L1635.0 303.7L1636.0 304.0L1637.0 302.8L1638.0 306.1L1639.0 300.4L1640.0 302.3L1641.0 305.3L1642.0 304.4L1643.0 305.2L1644.0 305.0L1645.0 304.6L1646.0 302.7L1647.0 302.8L1648.0 299.4L1649.0 300.9L1650.0 294.0L1651.0 300.6L1652.0 299.4L1653.0 297.7L1654.0 294.7L1655.0 293.5L1656.0 296.9L1657.0 293.8L1658.0 293.7L1659.0 291.4L1660.0 294.5L1661.0 290.2L1662.0 292.6L1663.0 289.0L1664.0 290.5L1665.0 292.4L1666.0 290.5L1667.0 290.0L1668.0 292.5L1669.0 290.3L1670.0 293.7L1671.0 283.0L1672.0 289.3L1673.0 289.0L1674.0 283.9L1675.0 284.0L1676.0 289.6L1677.0 284.0L1678.0 285.2L1679.0 288.3L1680.0 285.8L1681.0 288.7L1682.0 285.0L1683.0 288.0L1684.0 290.4L1685.0 288.2L1686.0 279.4L1687.0 288.0L1688.0 285.9L1689.0 282.3L1690.0 289.7L1691.0 278.4L1692.0 291.2L1693.0 282.0L1694.0 289.5L1695.0 283.6L1696.0 278.6L1697.0 285.2L1698.0 287.0L1699.0 288.8L1700.0 290.9L1701.0 282.2L1702.0 286.3L1703.0 286.3L1704.0 279.9L1705.0 277.5L1706.0 276.9L1707.0 283.8L1708.0 283.4L1709.0 275.8L1710.0 273.5L1711.0 285.4L1712.0 273.0L1713.0 280.7L1714.0 275.3L1715.0 270.5L1716.0 279.8L1717.0 278.3L1718.0 286.0L1719.0 290.2L1720.0 277.7L1721.0 283.3L1722.0 283.4L1723.0 275.2L1724.0 273.6L1725.0 286.7L1726.0 277.0L1727.0 279.5L1728.0 278.3L1729.0 279.6L1730.0 276.4L1731.0 282.3L1732.0 283.8L1733.0 274.8L1734.0 268.7L1735.0 275.9L1736.0 268.1L1737.0 272.0L1738.0 280.1L1739.0 285.5L1740.0 275.7L1741.0 268.5L1742.0 277.1L1743.0 262.2L1744.0 270.2L1745.0 281.4L1746.0 276.8L1747.0 266.3L1748.0 264.8L1749.0 276.7L1750.0 271.9L1751.0 268.6L1752.0 273.4L1753.0 268.1L1754.0 260.8L1755.0 274.6L1756.0 267.1L1757.0 264.8L1758.0 263.4L1759.0 271.1L1760.0 266.5L1761.0 272.7L1762.0 267.5L1763.0 274.2L1764.0 266.6L1765.0 265.3L1766.0 258.5L1767.0 261.9L1768.0 271.0L1769.0 281.7L1770.0 262.3L1771.0 264.4L1772.0 271.1L1773.0 272.3L1774.0 266.5L1775.0 270.0L1776.0 261.1L1777.0 266.5L1778.0 270.8L1779.0 272.0L1780.0 263.0L1781.0 262.7L1782.0 266.3L1783.0 269.1L1784.0 266.0L1785.0 260.3L1786.0 264.9L1787.0 267.9L1788.0 259.4L1789.0 256.3L1790.0 265.5L1791.0 263.9L1792.0 267.1L1793.0 262.7L1794.0 260.0L1795.0 261.9L1796.0 259.7L1797.0 260.2L1798.0 262.1L1799.0 261.7L1800.0 269.3L1801.0 255.9L1802.0 261.8L1803.0 258.4L1804.0 268.7L1805.0 262.6L1806.0 259.0L1807.0 264.9L1808.0 260.7L1809.0 257.7L1810.0 267.4L1811.0 262.7L1812.0 268.3L1813.0 265.6L1814.0 263.3L1815.0 261.0L1816.0 259.2L1817.0 271.8L1818.0 271.7L1819.0 277.1L1820.0 275.3L1821.0 272.6L1822.0 270.3L1823.0 277.8L1824.0 278.2L1825.0 267.3L1826.0 267.5L1827.0 266.3L1828.0 254.7L1829.0 257.1L1830.0 252.0L1831.0 263.4L1832.0 258.4L1833.0 254.5L1834.0 248.8L1835.0 255.4L1836.0 261.9L1837.0 255.6L1838.0 253.9L1839.0 259.5L1840.0 250.7L1841.0 257.1L1842.0 261.4L1843.0 254.4L1844.0 255.2L1845.0 260.7L1846.0 258.2L1847.0 256.9L1848.0 258.5L1849.0 256.1L1850.0 249.5L1851.0 250.5L1852.0 256.5L1853.0 259.6L1854.0 260.4L1855.0 249.6L1856.0 259.1L1857.0 256.1L1858.0 252.0L1859.0 254.8L1860.0 256.1L1861.0 270.2L1862.0 263.7L1863.0 277.3L1864.0 277.4L1865.0 279.9L1866.0 288.0L1867.0 285.4L1868.0 273.7L1869.0 272.9L1870.0 268.7L1871.0 252.8L1872.0 255.1L1873.0 250.4L1874.0 250.9L1875.0 251.3L1876.0 258.3L1877.0 249.3L1878.0 247.7L1879.0 258.3L1880.0 247.2L1881.0 246.4L1882.0 241.7L1883.0 254.2L1884.0 250.5L1885.0 251.6L1886.0 249.8L1887.0 250.3L1888.0 248.9L1889.0 250.0L1890.0 256.3L1891.0 254.7L1892.0 260.6L1893.0 246.4L1894.0 244.7L1895.0 242.1L1896.0 253.8L1897.0 241.1L1898.0 250.7L1899.0 254.0L1900.0 246.3L1901.0 250.7L1902.0 236.1L1903.0 245.6L1904.0 238.7L1905.0 248.2L1906.0 247.2L1907.0 242.6L1908.0 251.5L1909.0 253.5L1910.0 252.9L1911.0 255.8L1912.0 252.2L1913.0 259.0L1914.0 269.3L1915.0 253.0L1916.0 255.8L1917.0 246.8L1918.0 247.7L1919.0 245.8L1920.0 242.8L1921.0 235.2L1922.0 242.2L1923.0 251.3L1924.0 244.3L1925.0 249.0L1926.0 243.3L1927.0 237.2L1928.0 252.6L1929.0 254.6L1930.0 251.3L1931.0 253.3L1932.0 256.3L1933.0 250.7L1934.0 253.2L1935.0 247.0L1936.0 236.0L1937.0 246.8L1938.0 244.7L1939.0 244.1L1940.0 249.4L1941.0 244.8L1942.0 253.6L1943.0 258.7L1944.0 255.8L1945.0 247.8L1946.0 251.6L1947.0 258.4L1948.0 250.1L1949.0 243.9L1950.0 247.8L1956.0 247.8"/>
<path stroke="#880078" d="M343.8 1355.7L343.8 1012.0L344.0 1017.5L345.0 1013.0L346.0 1021.6L347.0 1010.2L348.0 1011.2L349.0 1009.5L350.0 1018.8L351.0 1010.3L352.0 1009.7L353.0 1008.5L354.0 1017.4L355.0 1005.7L356.0 999.3L357.0 980.8L358.0 1008.5L359.0 1003.3L360.0 997.2L361.0 1003.7L362.0 1011.2L363.0 997.8L364.0 994.3L365.0 996.0L366.0 989.1L367.0 995.5L368.0 987.4L369.0 988.3L370.0 983.9L371.0 981.6L372.0 990.6L373.0 1005.4L374.0 988.3L375.0 977.8L376.0 986.6L377.0 976.3L378.0 984.9L379.0 982.7L380.0 985.5L381.0 986.7L382.0 975.3L383.0 989.3L384.0 991.7L385.0 981.0L386.0 982.8L387.0 983.2L388.0 972.1L389.0 985.2L390.0 981.1L391.0 978.1L392.0 971.0L393.0 980.1L394.0 962.4L395.0 962.7L396.0 979.0L397.0 970.5L398.0 972.3L399.0 978.6L400.0 965.8L401.0 970.7L402.0 972.2L403.0 978.5L404.0 974.7L405.0 959.2L406.0 965.2L407.0 967.5L408.0 978.0L409.0 959.9L410.0 972.9L411.0 968.7L412.0 966.5L413.0 963.3L414.0 958.7L415.0 957.4L416.0 965.4L417.0 959.6L418.0 969.8L419.0 959.1L420.0 956.8L421.0 958.9L422.0 958.9L423.0 953.8L424.0 949.6L425.0 956.7L426.0 954.0L427.0 962.5L428.0 958.0L429.0 944.5L430.0 959.1L431.0 955.9L432.0 955.4L433.0 951.0L434.0 946.5L435.0 958.2L436.0 966.4L437.0 958.3L438.0 964.7L439.0 951.3L440.0 960.8L441.0 953.1L442.0 957.2L443.0 950.7L444.0 962.5L445.0 947.0L446.0 944.1L447.0 951.9L448.0 960.0L449.0 945.9L450.0 939.1L451.0 943.1L452.0 950.6L453.0 948.7L454.0 942.9L455.0 947.6L456.0 942.1L457.0 945.6L458.0 938.9L459.0 946.6L460.0 937.9L461.0 942.1L462.0 946.0L463.0 930.9L464.0 944.1L465.0 947.1L466.0 937.7L467.0 944.5L468.0 939.7L469.0 936.9L470.0 934.0L471.0 921.9L472.0 933.3L473.0 936.7L474.0 936.5L475.0 929.3L476.0 941.0L477.0 931.2L478.0 935.5L479.0 933.8L480.0 932.3L481.0 931.2L482.0 920.1L483.0 937.9L484.0 921.6L485.0 929.9L486.0 932.2L487.0 930.6L488.0 923.2L489.0 922.3L490.0 921.1L491.0 932.8L492.0 933.1L493.0 924.7L494.0 923.8L495.0 931.5L496.0 919.9L497.0 922.9L498.0 920.4L499.0 925.7L500.0 930.2L501.0 920.0L502.0 920.9L503.0 918.9L504.0 914.8L505.0 922.0L506.0 923.5L507.0 919.9L508.0 924.1L509.0 918.4L510.0 909.9L511.0 919.3L512.0 914.4L513.0 912.4L514.0 916.5L515.0 918.0L516.0 912.8L517.0 910.8L518.0 915.8L519.0 912.1L520.0 914.4L521.0 906.3L522.0 907.9L523.0 905.2L524.0 900.6L525.0 901.7L526.0 907.2L527.0 908.3L528.0 903.8L529.0 906.7L530.0 900.8L531.0 905.3L532.0 898.2L533.0 895.7L534.0 902.0L535.0 900.7L536.0 890.7L537.0 901.1L538.0 896.6L539.0 905.6L540.0 900.7L541.0 896.8L542.0 894.1L543.0 897.7L544.0 894.9L545.0 892.3L546.0 898.7L547.0 893.1L548.0 896.7L549.0 891.8L550.0 895.0L551.0 893.9L552.0 891.4L553.0 888.8L554.0 894.5L555.0 897.5L556.0 887.3L557.0 891.9L558.0 888.7L559.0 890.1L560.0 897.1L561.0 879.6L562.0 883.6L563.0 886.8L564.0 882.4L565.0 885.0L566.0 888.3L567.0 884.8L568.0 880.7L569.0 890.3L570.0 875.7L571.0 875.8L572.0 876.0L573.0 881.9L574.0 880.4L575.0 884.2L576.0 879.7L577.0 874.3L578.0 886.5L579.0 879.1L580.0 878.6L581.0 873.4L582.0 882.5L583.0 880.9L584.0 880.2L585.0 876.5L586.0 877.3L587.0 876.4L588.0 869.2L589.0 880.2L590.0 874.3L591.0 864.9L592.0 874.2L593.0 866.2L594.0 879.8L595.0 870.5L596.0 868.2L597.0 868.9L598.0 870.7L599.0 865.1L600.0 863.4L601.0 869.0L602.0 859.1L603.0 867.7L604.0 857.9L605.0 863.0L606.0 861.3L607.0 858.5L608.0 860.4L609.0 863.8L610.0 863.0L611.0 856.4L612.0 856.4L613.0 866.7L614.0 862.8L615.0 858.9L616.0 859.5L617.0 858.6L618.0 857.0L619.0 859.0L620.0 847.0L621.0 852.6L622.0 853.6L623.0 852.4L624.0 857.8L625.0 854.4L626.0 852.5L627.0 854.9L628.0 851.5L629.0 852.4L630.0 850.1L631.0 847.6L632.0 849.4L633.0 841.4L634.0 845.9L635.0 847.0L636.0 840.8L637.0 843.5L638.0 844.1L639.0 844.1L640.0 840.4L641.0 838.3L642.0 841.0L643.0 838.7L644.0 838.3L645.0 838.0L646.0 839.7L647.0 838.4L648.0 836.8L649.0 840.3L650.0 835.6L651.0 835.1L652.0 833.2L653.0 837.7L654.0 833.8L655.0 833.7L656.0 830.8L657.0 828.2L658.0 830.1L659.0 834.3L660.0 832.8L661.0 829.5L662.0 824.6L663.0 826.9L664.0 825.7L665.0 829.8L666.0 826.9L667.0 829.7L668.0 826.0L669.0 823.0L670.0 822.6L671.0 819.4L672.0 822.5L673.0 820.1L674.0 821.8L675.0 819.6L676.0 822.1L677.0 817.5L678.0 818.6L679.0 820.8L680.0 817.9L681.0 817.4L682.0 817.7L683.0 813.3L684.0 816.4L685.0 814.2L686.0 813.2L687.0 812.1L688.0 811.4L689.0 810.9L690.0 808.0L691.0 810.9L692.0 809.7L693.0 808.0L694.0 808.7L695.0 811.1L696.0 808.1L697.0 806.8L698.0 808.7L699.0 804.8L700.0 804.7L702.0 803.0L704.0 802.1L706.0 801.9L708.0 800.3L710.0 797.2L712.0 796.6L714.0 795.6L716.0 793.7L718.0 793.0L720.0 790.8L722.0 789.3L724.0 789.0L726.0 786.4L728.0 786.9L730.0 784.5L732.0 782.1L734.0 781.3L736.0 780.0L738.0 779.2L740.0 778.0L742.0 776.3L744.0 774.2L746.0 775.9L748.0 773.9L750.0 771.5L752.0 771.5L754.0 769.2L756.0 767.2L758.0 766.4L760.0 768.0L762.0 764.5L764.0 763.1L766.0 759.8L768.0 759.5L770.0 760.0L772.0 756.4L774.0 755.7L776.0 754.4L778.0 752.0L780.0 751.9L782.0 749.0L784.0 747.8L786.0 744.8L788.0 747.5L790.0 743.3L792.0 741.6L794.0 741.7L796.0 738.1L798.0 737.4L800.0 734.9L802.0 734.8L804.0 733.3L806.0 733.2L808.0 731.4L810.0 729.4L812.0 728.9L814.0 727.8L816.0 725.8L818.0 726.4L820.0 725.1L822.0 723.3L824.0 720.5L826.0 721.6L828.0 718.1L830.0 718.6L832.0 717.1L834.0 715.2L836.0 713.5L838.0 712.4L840.0 714.4L842.0 710.4L844.0 709.4L846.0 709.6L848.0 707.5L850.0 706.7L852.0 702.7L854.0 701.3L856.0 705.7L858.0 700.3L860.0 698.4L862.0 697.6L864.0 697.3L866.0 693.1L868.0 693.6L870.0 692.1L872.0 691.9L874.0 690.0L876.0 687.9L878.0 686.1L880.0 682.9L882.0 685.7L884.0 681.5L886.0 681.4L888.0 682.3L890.0 678.7L892.0 678.6L894.0 676.6L896.0 676.6L898.0 674.3L900.0 672.4L902.0 673.5L904.0 670.2L906.0 667.4L908.0 667.5L910.0 667.1L912.0 663.6L914.0 664.7L916.0 663.1L918.0 663.4L920.0 658.6L922.0 658.6L924.0 654.4L926.0 654.5L928.0 653.9L930.0 653.0L932.0 651.2L934.0 650.1L936.0 648.2L938.0 647.2L940.0 647.0L942.0 646.1L944.0 645.0L946.0 644.2L948.0 643.3L950.0 638.2L952.0 638.4L954.0 637.7L956.0 635.8L958.0 636.7L960.0 635.0L962.0 633.0L964.0 632.4L966.0 632.9L968.0 629.9L970.0 628.5L972.0 628.9L974.0 627.1L976.0 627.1L978.0 624.7L980.0 623.7L982.0 620.9L984.0 619.4L986.0 619.5L988.0 615.1L990.0 617.7L992.0 617.2L994.0 615.1L996.0 613.6L998.0 613.9L1000.0 611.6L1002.0 611.9L1004.0 612.2L1006.0 609.0L1008.0 608.0L1010.0 606.3L1012.0 604.8L1014.0 603.8L1016.0 602.3L1018.0 602.4L1020.0 597.8L1022.0 598.6L1024.0 598.6L1026.0 595.5L1028.0 595.1L1030.0 593.1L1032.0 593.5L1034.0 593.1L1036.0 592.6L1038.0 590.3L1040.0 587.8L1042.0 587.9L1044.0 587.0L1046.0 587.0L1048.0 581.9L1050.0 583.9L1052.0 579.9L1054.0 582.1L1056.0 580.7L1058.0 579.4L1060.0 578.7L1062.0 576.8L1064.0 574.3L1066.0 574.4L1068.0 574.2L1070.0 571.6L1072.0 570.6L1074.0 568.2L1076.0 569.8L1078.0 566.6L1080.0 565.1L1082.0 564.2L1084.0 562.4L1086.0 562.0L1088.0 562.7L1090.0 560.8L1092.0 560.6L1094.0 559.8L1096.0 555.8L1098.0 556.2L1100.0 556.7L1102.0 556.5L1104.0 550.8L1106.0 549.6L1108.0 550.8L1110.0 549.0L1112.0 546.9L1114.0 547.4L1116.0 544.5L1118.0 541.6L1120.0 543.6L1122.0 542.6L1124.0 542.1L1126.0 541.5L1128.0 539.3L1130.0 537.7L1132.0 536.2L1134.0 533.8L1136.0 534.0L1138.0 534.5L1140.0 533.0L1142.0 533.4L1144.0 529.8L1146.0 526.8L1148.0 529.2L1150.0 528.4L1152.0 524.3L1154.0 522.8L1156.0 523.7L1158.0 523.4L1160.0 520.0L1162.0 519.5L1164.0 517.9L1166.0 516.5L1168.0 515.0L1170.0 515.8L1172.0 514.0L1174.0 512.4L1176.0 508.7L1178.0 513.2L1180.0 508.8L1182.0 508.8L1184.0 506.5L1186.0 507.2L1188.0 503.5L1190.0 504.4L1192.0 503.0L1194.0 503.3L1196.0 499.8L1198.0 499.4L1200.0 498.9L1202.0 501.0L1204.0 495.8L1206.0 497.3L1208.0 495.1L1210.0 495.8L1212.0 495.4L1214.0 494.0L1216.0 493.5L1218.0 492.9L1220.0 490.8L1222.0 490.5L1224.0 487.9L1226.0 488.6L1228.0 487.2L1230.0 487.1L1232.0 487.5L1234.0 486.0L1236.0 485.3L1238.0 485.2L1240.0 480.1L1242.0 482.6L1244.0 481.3L1246.0 480.4L1248.0 478.0L1250.0 479.9L1252.0 479.5L1254.0 478.6L1256.0 476.4L1258.0 476.4L1260.0 475.7L1262.0 476.0L1264.0 474.3L1266.0 472.2L1268.0 471.5L1270.0 470.8L1272.0 470.0L1274.0 468.1L1276.0 469.1L1278.0 466.5L1280.0 465.4L1282.0 466.0L1284.0 464.0L1286.0 463.2L1288.0 460.3L1292.0 462.0L1295.0 465.0L1298.0 475.0L1300.0 516.1L1303.0 577.6L1306.0 639.2L1309.0 700.8L1312.0 762.4L1315.0 823.9L1318.0 885.5L1321.0 947.1L1324.0 1008.7L1327.0 1070.3L1330.0 1131.8L1333.0 1193.4L1336.0 1255.0L1338.0 1250.0L1342.0 1125.5L1347.0 977.5L1351.0 891.0L1352.5 885.0L1354.0 897.0L1358.0 1006.0L1362.0 1097.0L1365.0 1105.0L1372.0 1076.1L1385.0 987.5L1391.0 898.8L1400.0 782.3L1414.0 647.4L1428.0 560.7L1441.0 477.8L1449.0 420.0L1452.0 423.0L1458.0 430.0L1465.0 436.0L1474.0 424.0L1486.0 406.0L1500.0 387.7L1501.0 389.0L1502.0 385.4L1503.0 384.9L1504.0 389.5L1505.0 384.7L1506.0 380.3L1507.0 385.0L1508.0 381.5L1509.0 375.9L1510.0 382.3L1511.0 383.6L1512.0 381.8L1513.0 383.7L1514.0 379.0L1515.0 380.5L1516.0 376.8L1517.0 378.1L1518.0 381.4L1519.0 380.5L1520.0 380.6L1521.0 375.5L1522.0 378.1L1523.0 375.4L1524.0 376.9L1525.0 370.9L1526.0 372.7L1527.0 370.2L1528.0 375.3L1529.0 368.3L1530.0 370.7L1531.0 374.8L1532.0 369.1L1533.0 366.8L1534.0 369.1L1535.0 368.7L1536.0 367.4L1537.0 361.4L1538.0 364.7L1539.0 359.4L1540.0 366.7L1541.0 362.8L1542.0 361.5L1543.0 364.1L1544.0 363.5L1545.0 360.2L1546.0 364.3L1547.0 360.2L1548.0 357.0L1549.0 362.6L1550.0 362.0L1551.0 360.2L1552.0 357.6L1553.0 354.4L1554.0 357.5L1555.0 359.3L1556.0 356.9L1557.0 358.2L1558.0 352.9L1559.0 356.3L1560.0 355.5L1561.0 350.7L1562.0 349.9L1563.0 351.3L1564.0 352.6L1565.0 353.1L1566.0 351.7L1567.0 351.9L1568.0 351.0L1569.0 351.2L1570.0 351.7L1571.0 351.1L1572.0 349.7L1573.0 350.0L1574.0 349.8L1575.0 352.1L1576.0 349.6L1577.0 353.6L1578.0 349.7L1579.0 348.6L1580.0 344.6L1581.0 342.9L1582.0 342.8L1583.0 342.2L1584.0 341.1L1585.0 339.4L1586.0 341.8L1587.0 341.9L1588.0 342.5L1589.0 343.7L1590.0 340.2L1591.0 337.2L1592.0 340.3L1593.0 336.2L1594.0 337.4L1595.0 341.9L1596.0 340.5L1597.0 337.8L1598.0 337.0L1599.0 337.7L1600.0 333.6L1601.0 337.8L1602.0 335.9L1603.0 339.8L1604.0 333.5L1605.0 337.3L1606.0 334.2L1607.0 337.8L1608.0 333.4L1609.0 336.8L1610.0 334.0L1611.0 332.9L1612.0 333.9L1613.0 334.6L1614.0 333.8L1615.0 334.7L1616.0 332.7L1617.0 325.9L1618.0 329.7L1619.0 326.5L1620.0 329.3L1621.0 331.1L1622.0 326.9L1623.0 327.2L1624.0 330.2L1625.0 328.3L1626.0 331.5L1627.0 328.9L1628.0 328.2L1629.0 330.6L1630.0 325.7L1631.0 326.7L1632.0 324.5L1633.0 326.6L1634.0 328.2L1635.0 328.4L1636.0 325.2L1637.0 324.8L1638.0 324.7L1639.0 323.1L1640.0 325.6L1641.0 331.0L1642.0 326.1L1643.0 328.1L1644.0 335.9L1645.0 330.6L1646.0 333.5L1647.0 328.1L1648.0 329.7L1649.0 326.8L1650.0 322.0L1651.0 323.1L1652.0 321.3L1653.0 321.9L1654.0 323.7L1655.0 321.8L1656.0 318.5L1657.0 318.2L1658.0 319.5L1659.0 319.1L1660.0 319.0L1661.0 317.5L1662.0 319.9L1663.0 318.5L1664.0 318.9L1665.0 317.6L1666.0 319.0L1667.0 314.5L1668.0 320.6L1669.0 317.5L1670.0 317.9L1671.0 318.0L1672.0 318.8L1673.0 317.1L1674.0 315.7L1675.0 313.4L1676.0 307.9L1677.0 313.8L1678.0 311.9L1679.0 311.3L1680.0 320.5L1681.0 306.3L1682.0 313.1L1683.0 317.1L1684.0 316.4L1685.0 317.6L1686.0 309.1L1687.0 310.5L1688.0 316.4L1689.0 312.6L1690.0 320.3L1691.0 313.9L1692.0 314.0L1693.0 315.0L1694.0 311.8L1695.0 313.0L1696.0 308.2L1697.0 312.8L1698.0 311.5L1699.0 315.2L1700.0 307.6L1701.0 306.0L1702.0 314.3L1703.0 311.3L1704.0 302.4L1705.0 306.1L1706.0 301.5L1707.0 317.2L1708.0 298.8L1709.0 315.4L1710.0 302.1L1711.0 308.4L1712.0 304.6L1713.0 304.1L1714.0 311.6L1715.0 310.4L1716.0 304.5L1717.0 299.7L1718.0 317.4L1719.0 313.0L1720.0 305.1L1721.0 302.4L1722.0 305.3L1723.0 304.4L1724.0 311.3L1725.0 300.3L1726.0 308.6L1727.0 304.3L1728.0 317.2L1729.0 320.9L1730.0 309.1L1731.0 312.2L1732.0 315.6L1733.0 303.5L1734.0 297.1L1735.0 308.1L1736.0 304.5L1737.0 300.0L1738.0 309.9L1739.0 302.7L1740.0 290.3L1741.0 302.9L1742.0 300.6L1743.0 312.4L1744.0 301.1L1745.0 300.0L1746.0 303.5L1747.0 301.9L1748.0 292.0L1749.0 300.7L1750.0 297.1L1751.0 307.3L1752.0 312.6L1753.0 291.2L1754.0 292.2L1755.0 292.8L1756.0 293.0L1757.0 291.2L1758.0 295.6L1759.0 301.7L1760.0 287.0L1761.0 284.9L1762.0 282.7L1763.0 299.3L1764.0 300.2L1765.0 283.0L1766.0 282.9L1767.0 293.5L1768.0 299.3L1769.0 298.2L1770.0 296.0L1771.0 300.6L1772.0 299.9L1773.0 295.3L1774.0 310.6L1775.0 298.7L1776.0 290.9L1777.0 293.5L1778.0 285.1L1779.0 291.3L1780.0 297.3L1781.0 282.7L1782.0 296.8L1783.0 302.2L1784.0 291.5L1785.0 281.9L1786.0 283.0L1787.0 286.4L1788.0 281.0L1789.0 280.8L1790.0 286.8L1791.0 287.3L1792.0 291.8L1793.0 280.3L1794.0 300.2L1795.0 296.8L1796.0 296.6L1797.0 287.1L1798.0 301.2L1799.0 287.4L1800.0 298.8L1801.0 292.5L1802.0 280.5L1803.0 282.6L1804.0 296.8L1805.0 291.1L1806.0 284.1L1807.0 286.5L1808.0 286.9L1809.0 280.5L1810.0 283.7L1811.0 281.7L1812.0 283.6L1813.0 288.6L1814.0 280.2L1815.0 290.3L1816.0 290.5L1817.0 297.6L1818.0 301.4L1819.0 305.7L1820.0 302.3L1821.0 303.6L1822.0 297.3L1823.0 300.2L1824.0 288.9L1825.0 290.0L1826.0 292.6L1827.0 283.8L1828.0 286.8L1829.0 278.1L1830.0 292.3L1831.0 281.0L1832.0 286.8L1833.0 284.4L1834.0 290.4L1835.0 282.2L1836.0 278.3L1837.0 272.5L1838.0 282.1L1839.0 276.4L1840.0 286.5L1841.0 291.2L1842.0 271.3L1843.0 277.9L1844.0 288.5L1845.0 293.5L1846.0 288.2L1847.0 287.0L1848.0 287.0L1849.0 285.4L1850.0 291.4L1851.0 285.0L1852.0 274.2L1853.0 277.7L1854.0 282.2L1855.0 274.8L1856.0 277.9L1857.0 275.8L1858.0 273.8L1859.0 282.8L1860.0 276.0L1861.0 275.6L1862.0 282.3L1863.0 290.4L1864.0 305.2L1865.0 295.4L1866.0 302.9L1867.0 296.7L1868.0 279.4L1869.0 293.0L1870.0 282.8L1871.0 275.9L1872.0 271.8L1873.0 289.7L1874.0 268.7L1875.0 274.7L1876.0 285.8L1877.0 282.8L1878.0 267.7L1879.0 277.0L1880.0 274.2L1881.0 276.3L1882.0 281.0L1883.0 273.1L1884.0 274.6L1885.0 285.5L1886.0 265.3L1887.0 277.8L1888.0 285.5L1889.0 277.4L1890.0 281.7L1891.0 277.4L1892.0 285.4L1893.0 278.7L1894.0 283.7L1895.0 284.9L1896.0 279.2L1897.0 276.7L1898.0 279.8L1899.0 278.1L1900.0 270.3L1901.0 283.5L1902.0 277.9L1903.0 281.0L1904.0 268.0L1905.0 281.0L1906.0 288.4L1907.0 279.7L1908.0 267.7L1909.0 284.0L1910.0 288.4L1911.0 293.8L1912.0 293.3L1913.0 298.8L1914.0 292.3L1915.0 294.1L1916.0 284.2L1917.0 284.0L1918.0 282.4L1919.0 274.3L1920.0 281.5L1921.0 272.4L1922.0 275.7L1923.0 276.8L1924.0 285.9L1925.0 274.3L1926.0 285.8L1927.0 269.5L1928.0 282.3L1929.0 292.0L1930.0 292.4L1931.0 282.2L1932.0 280.3L1933.0 291.2L1934.0 275.0L1935.0 281.9L1936.0 275.0L1937.0 277.6L1938.0 291.9L1939.0 287.9L1940.0 284.0L1941.0 270.9L1942.0 285.2L1943.0 286.1L1944.0 286.4L1945.0 295.3L1946.0 276.9L1947.0 287.8L1948.0 283.9L1949.0 275.1L1950.0 289.7L1956.0 289.7"/>
<path stroke="#f41ed8" d="M343.8 1355.7L343.8 1018.0L344.0 1016.0L345.0 1014.8L346.0 1015.6L347.0 1011.1L348.0 1013.3L349.0 1020.2L350.0 1007.0L351.0 1027.0L352.0 1015.6L353.0 1012.8L354.0 1008.6L355.0 1013.4L356.0 1016.8L357.0 1015.6L358.0 1013.9L359.0 1006.8L360.0 1008.8L361.0 1000.2L362.0 1004.6L363.0 994.6L364.0 1014.8L365.0 995.4L366.0 998.4L367.0 1009.2L368.0 996.2L369.0 993.9L370.0 1001.7L371.0 1002.8L372.0 998.4L373.0 1002.4L374.0 989.9L375.0 994.7L376.0 998.8L377.0 1002.6L378.0 997.0L379.0 990.6L380.0 999.7L381.0 997.1L382.0 990.2L383.0 990.1L384.0 983.3L385.0 986.8L386.0 997.2L387.0 997.3L388.0 978.6L389.0 986.6L390.0 986.3L391.0 989.3L392.0 984.4L393.0 990.6L394.0 989.6L395.0 978.8L396.0 983.8L397.0 1003.7L398.0 981.0L399.0 987.8L400.0 985.8L401.0 973.9L402.0 983.5L403.0 988.7L404.0 979.1L405.0 982.9L406.0 965.2L407.0 971.8L408.0 985.2L409.0 977.0L410.0 981.7L411.0 972.9L412.0 975.9L413.0 975.1L414.0 969.7L415.0 974.7L416.0 977.1L417.0 974.7L418.0 974.1L419.0 965.9L420.0 980.5L421.0 963.4L422.0 969.1L423.0 972.5L424.0 973.8L425.0 970.4L426.0 968.6L427.0 975.2L428.0 967.5L429.0 965.9L430.0 969.7L431.0 970.6L432.0 967.4L433.0 964.8L434.0 968.4L435.0 964.7L436.0 964.4L437.0 958.6L438.0 961.4L439.0 959.9L440.0 957.2L441.0 956.8L442.0 958.8L443.0 961.3L444.0 967.6L445.0 960.5L446.0 958.6L447.0 962.3L448.0 958.4L449.0 956.1L450.0 950.4L451.0 959.6L452.0 960.7L453.0 955.5L454.0 956.1L455.0 950.7L456.0 951.5L457.0 950.5L458.0 957.7L459.0 946.7L460.0 952.9L461.0 949.6L462.0 946.7L463.0 951.0L464.0 947.7L465.0 943.3L466.0 946.4L467.0 942.1L468.0 946.0L469.0 933.5L470.0 945.5L471.0 946.1L472.0 942.9L473.0 947.8L474.0 937.5L475.0 941.4L476.0 945.9L477.0 942.4L478.0 941.4L479.0 936.8L480.0 935.6L481.0 940.3L482.0 939.5L483.0 928.0L484.0 943.2L485.0 926.8L486.0 934.8L487.0 939.2L488.0 935.3L489.0 939.4L490.0 933.6L491.0 934.7L492.0 936.8L493.0 931.7L494.0 929.2L495.0 934.6L496.0 928.0L497.0 928.8L498.0 928.1L499.0 928.7L500.0 932.1L501.0 932.5L502.0 928.5L503.0 924.7L504.0 930.4L505.0 921.8L506.0 924.2L507.0 929.1L508.0 924.3L509.0 924.0L510.0 919.0L511.0 918.3L512.0 926.4L513.0 918.0L514.0 923.5L515.0 917.1L516.0 917.8L517.0 920.0L518.0 916.1L519.0 917.6L520.0 921.1L521.0 921.8L522.0 918.2L523.0 915.3L524.0 910.0L525.0 915.3L526.0 914.7L527.0 917.3L528.0 913.2L529.0 905.2L530.0 907.4L531.0 912.7L532.0 916.7L533.0 911.6L534.0 914.5L535.0 910.3L536.0 898.0L537.0 912.7L538.0 905.3L539.0 904.6L540.0 908.2L541.0 907.4L542.0 904.5L543.0 907.3L544.0 908.5L545.0 909.3L546.0 901.4L547.0 907.1L548.0 907.2L549.0 902.0L550.0 905.4L551.0 900.9L552.0 903.0L553.0 905.4L554.0 901.0L555.0 900.4L556.0 896.6L557.0 899.8L558.0 896.4L559.0 898.6L560.0 895.9L561.0 894.3L562.0 893.8L563.0 899.9L564.0 892.7L565.0 891.0L566.0 894.1L567.0 894.9L568.0 894.3L569.0 890.3L570.0 894.0L571.0 889.0L572.0 889.6L573.0 892.3L574.0 886.6L575.0 888.8L576.0 884.2L577.0 887.7L578.0 888.1L579.0 885.6L580.0 883.7L581.0 889.6L582.0 886.0L583.0 885.2L584.0 879.8L585.0 886.2L586.0 883.8L587.0 881.4L588.0 875.4L589.0 879.0L590.0 881.9L591.0 882.2L592.0 879.0L593.0 882.5L594.0 876.6L595.0 878.4L596.0 880.9L597.0 876.6L598.0 880.1L599.0 871.9L600.0 873.5L601.0 874.0L602.0 874.5L603.0 869.9L604.0 875.3L605.0 874.1L606.0 871.1L607.0 869.7L608.0 868.8L609.0 873.2L610.0 871.6L611.0 867.0L612.0 867.7L613.0 868.2L614.0 867.2L615.0 867.1L616.0 869.0L617.0 862.9L618.0 867.5L619.0 865.9L620.0 864.3L621.0 861.9L622.0 862.6L623.0 860.4L624.0 860.9L625.0 858.1L626.0 865.8L627.0 860.2L628.0 857.4L629.0 858.9L630.0 858.6L631.0 859.6L632.0 856.7L633.0 859.5L634.0 858.6L635.0 860.6L636.0 857.2L637.0 856.3L638.0 852.2L639.0 861.6L640.0 853.0L641.0 851.5L642.0 853.3L643.0 850.6L644.0 851.3L645.0 852.9L646.0 851.5L647.0 851.8L648.0 844.4L649.0 849.6L650.0 849.9L651.0 847.2L652.0 843.7L653.0 845.5L654.0 848.6L655.0 843.7L656.0 843.4L657.0 842.2L658.0 841.0L659.0 844.4L660.0 841.0L661.0 838.3L662.0 839.3L663.0 839.2L664.0 839.0L665.0 839.4L666.0 836.7L667.0 838.1L668.0 836.8L669.0 836.2L670.0 834.1L671.0 836.9L672.0 833.6L673.0 833.4L674.0 833.2L675.0 833.0L676.0 833.6L677.0 832.0L678.0 830.8L679.0 832.0L680.0 829.6L681.0 829.9L682.0 828.6L683.0 827.7L684.0 828.5L685.0 829.3L686.0 826.8L687.0 824.9L688.0 825.2L689.0 828.2L690.0 824.0L691.0 826.1L692.0 823.3L693.0 823.8L694.0 822.1L695.0 819.9L696.0 821.2L697.0 824.1L698.0 820.4L699.0 820.4L700.0 818.7L702.0 817.5L704.0 816.9L706.0 815.8L708.0 816.7L710.0 812.3L712.0 810.4L714.0 808.2L716.0 806.0L718.0 804.3L720.0 805.8L722.0 801.3L724.0 804.3L726.0 802.3L728.0 799.7L730.0 797.3L732.0 797.2L734.0 795.7L736.0 795.6L738.0 792.0L740.0 790.9L742.0 790.1L744.0 788.2L746.0 785.9L748.0 783.0L750.0 781.6L752.0 781.6L754.0 781.2L756.0 781.6L758.0 782.2L760.0 779.9L762.0 776.7L764.0 777.2L766.0 773.2L768.0 771.2L770.0 773.4L772.0 767.7L774.0 767.1L776.0 765.8L778.0 766.5L780.0 762.4L782.0 763.0L784.0 760.0L786.0 757.8L788.0 758.4L790.0 757.0L792.0 753.9L794.0 752.9L796.0 751.2L798.0 752.3L800.0 749.9L802.0 748.6L804.0 747.5L806.0 745.2L808.0 745.2L810.0 742.6L812.0 740.4L814.0 740.1L816.0 740.3L818.0 739.0L820.0 739.3L822.0 734.3L824.0 735.1L826.0 734.7L828.0 731.5L830.0 732.0L832.0 729.8L834.0 727.9L836.0 729.5L838.0 725.1L840.0 726.8L842.0 723.6L844.0 721.6L846.0 720.4L848.0 719.4L850.0 718.2L852.0 718.3L854.0 714.1L856.0 716.7L858.0 714.9L860.0 714.4L862.0 709.8L864.0 706.7L866.0 707.5L868.0 706.7L870.0 706.4L872.0 704.0L874.0 703.2L876.0 702.1L878.0 698.5L880.0 701.5L882.0 696.4L884.0 697.1L886.0 696.8L888.0 693.4L890.0 693.1L892.0 693.6L894.0 689.8L896.0 690.5L898.0 688.2L900.0 686.8L902.0 686.1L904.0 683.6L906.0 682.5L908.0 682.7L910.0 680.5L912.0 679.3L914.0 675.8L916.0 676.4L918.0 676.6L920.0 675.1L922.0 673.2L924.0 670.8L926.0 669.4L928.0 669.5L930.0 669.3L932.0 666.0L934.0 666.4L936.0 663.2L938.0 663.7L940.0 659.6L942.0 659.8L944.0 656.9L946.0 658.0L948.0 656.5L950.0 653.3L952.0 652.4L954.0 651.4L956.0 648.9L958.0 648.0L960.0 646.9L962.0 648.0L964.0 647.4L966.0 644.1L968.0 643.3L970.0 643.0L972.0 640.8L974.0 640.1L976.0 640.5L978.0 638.5L980.0 637.2L982.0 635.3L984.0 636.9L986.0 633.0L988.0 632.7L990.0 630.2L992.0 629.4L994.0 629.1L996.0 627.3L998.0 627.2L1000.0 625.7L1002.0 622.5L1004.0 620.2L1006.0 623.3L1008.0 620.2L1010.0 621.8L1012.0 618.8L1014.0 616.7L1016.0 617.0L1018.0 614.8L1020.0 613.9L1022.0 611.7L1024.0 613.0L1026.0 612.4L1028.0 609.4L1030.0 611.3L1032.0 607.1L1034.0 607.4L1036.0 603.9L1038.0 602.4L1040.0 606.5L1042.0 604.5L1044.0 603.2L1046.0 598.2L1048.0 599.5L1050.0 598.4L1052.0 596.4L1054.0 595.7L1056.0 593.1L1058.0 593.3L1060.0 591.3L1062.0 591.0L1064.0 590.5L1066.0 588.0L1068.0 587.5L1070.0 586.0L1072.0 585.4L1074.0 585.6L1076.0 583.6L1078.0 582.6L1080.0 579.2L1082.0 579.7L1084.0 580.3L1086.0 577.1L1088.0 576.8L1090.0 575.5L1092.0 577.3L1094.0 574.4L1096.0 573.0L1098.0 574.0L1100.0 573.5L1102.0 571.4L1104.0 571.1L1106.0 569.2L1108.0 567.5L1110.0 566.1L1112.0 564.8L1114.0 563.5L1116.0 563.7L1118.0 562.0L1120.0 561.1L1122.0 560.7L1124.0 558.7L1126.0 555.8L1128.0 555.8L1130.0 554.4L1132.0 552.1L1134.0 553.7L1136.0 550.8L1138.0 549.2L1140.0 548.3L1142.0 549.7L1144.0 547.5L1146.0 548.0L1148.0 545.7L1150.0 544.3L1152.0 544.4L1154.0 543.7L1156.0 542.0L1158.0 539.4L1160.0 539.3L1162.0 537.5L1164.0 537.7L1166.0 537.3L1168.0 538.2L1170.0 536.8L1172.0 534.8L1174.0 534.1L1176.0 532.3L1178.0 534.8L1180.0 532.2L1182.0 532.7L1184.0 528.7L1186.0 527.6L1188.0 527.7L1190.0 525.6L1192.0 524.7L1194.0 522.1L1196.0 523.5L1198.0 521.5L1200.0 521.3L1202.0 519.0L1204.0 516.1L1206.0 518.0L1208.0 518.2L1210.0 514.1L1212.0 513.6L1214.0 513.6L1216.0 513.0L1218.0 510.3L1220.0 513.6L1222.0 512.0L1224.0 508.9L1226.0 506.7L1228.0 508.9L1230.0 510.0L1232.0 507.7L1234.0 507.0L1236.0 503.3L1238.0 504.0L1240.0 501.0L1242.0 504.5L1244.0 501.8L1246.0 497.6L1248.0 497.3L1250.0 499.7L1252.0 498.6L1254.0 497.1L1256.0 497.5L1258.0 498.4L1260.0 495.3L1262.0 492.1L1264.0 493.5L1266.0 491.3L1268.0 491.0L1270.0 491.9L1272.0 490.6L1274.0 488.6L1276.0 489.6L1278.0 488.1L1280.0 489.1L1282.0 487.4L1284.0 487.5L1286.0 485.9L1288.0 486.2L1292.0 482.0L1295.0 485.0L1298.0 495.0L1300.0 535.3L1303.0 595.7L1306.0 656.1L1309.0 716.4L1312.0 776.8L1315.0 837.2L1318.0 897.6L1321.0 958.0L1324.0 1018.4L1327.0 1078.8L1330.0 1139.2L1333.0 1199.6L1336.0 1260.0L1338.0 1255.0L1342.0 1134.0L1347.0 990.0L1351.0 906.0L1352.5 900.0L1354.0 912.0L1358.0 1015.5L1362.0 1102.0L1365.0 1110.0L1372.0 1081.7L1385.0 994.9L1391.0 908.0L1400.0 793.8L1414.0 661.7L1428.0 576.8L1441.0 495.6L1449.0 439.0L1452.0 442.0L1458.0 447.0L1465.0 453.0L1474.0 441.0L1486.0 424.0L1500.0 405.4L1501.0 405.7L1502.0 405.3L1503.0 405.3L1504.0 404.9L1505.0 400.9L1506.0 403.2L1507.0 404.6L1508.0 400.6L1509.0 401.7L1510.0 399.5L1511.0 401.1L1512.0 403.6L1513.0 399.5L1514.0 396.8L1515.0 398.5L1516.0 397.5L1517.0 398.9L1518.0 395.5L1519.0 397.4L1520.0 399.1L1521.0 396.4L1522.0 401.7L1523.0 393.5L1524.0 393.4L1525.0 389.3L1526.0 389.9L1527.0 391.7L1528.0 390.4L1529.0 390.9L1530.0 389.7L1531.0 383.5L1532.0 388.0L1533.0 383.4L1534.0 386.0L1535.0 385.7L1536.0 385.1L1537.0 386.6L1538.0 383.5L1539.0 388.0L1540.0 384.6L1541.0 384.9L1542.0 383.6L1543.0 383.0L1544.0 380.9L1545.0 384.5L1546.0 378.3L1547.0 380.0L1548.0 378.4L1549.0 377.3L1550.0 378.6L1551.0 376.6L1552.0 379.7L1553.0 379.3L1554.0 378.1L1555.0 379.3L1556.0 375.4L1557.0 373.6L1558.0 375.6L1559.0 375.2L1560.0 379.7L1561.0 373.7L1562.0 375.7L1563.0 374.3L1564.0 376.2L1565.0 372.4L1566.0 373.2L1567.0 371.8L1568.0 369.7L1569.0 369.3L1570.0 369.7L1571.0 373.8L1572.0 371.1L1573.0 369.9L1574.0 371.7L1575.0 371.2L1576.0 373.0L1577.0 373.4L1578.0 374.2L1579.0 373.5L1580.0 367.4L1581.0 369.4L1582.0 371.3L1583.0 366.3L1584.0 367.7L1585.0 368.1L1586.0 369.3L1587.0 368.1L1588.0 366.2L1589.0 366.4L1590.0 367.6L1591.0 366.1L1592.0 368.5L1593.0 365.1L1594.0 361.4L1595.0 362.1L1596.0 362.5L1597.0 362.2L1598.0 364.2L1599.0 362.8L1600.0 364.8L1601.0 362.7L1602.0 363.8L1603.0 359.5L1604.0 360.1L1605.0 362.3L1606.0 360.7L1607.0 361.5L1608.0 361.1L1609.0 359.3L1610.0 364.0L1611.0 362.8L1612.0 356.8L1613.0 358.6L1614.0 359.8L1615.0 360.9L1616.0 358.9L1617.0 355.5L1618.0 359.4L1619.0 357.3L1620.0 360.1L1621.0 358.4L1622.0 359.4L1623.0 359.0L1624.0 358.7L1625.0 355.7L1626.0 358.4L1627.0 356.9L1628.0 353.2L1629.0 355.0L1630.0 354.6L1631.0 355.8L1632.0 355.7L1633.0 351.8L1634.0 355.2L1635.0 353.4L1636.0 350.9L1637.0 354.4L1638.0 350.0L1639.0 349.3L1640.0 352.9L1641.0 356.2L1642.0 355.0L1643.0 359.7L1644.0 360.1L1645.0 357.2L1646.0 361.8L1647.0 356.6L1648.0 354.6L1649.0 346.7L1650.0 349.1L1651.0 347.1L1652.0 348.3L1653.0 343.9L1654.0 349.2L1655.0 348.8L1656.0 349.3L1657.0 339.0L1658.0 344.7L1659.0 343.4L1660.0 335.7L1661.0 340.9L1662.0 341.6L1663.0 344.3L1664.0 338.7L1665.0 340.5L1666.0 339.8L1667.0 341.1L1668.0 338.8L1669.0 341.4L1670.0 340.2L1671.0 334.2L1672.0 340.1L1673.0 334.6L1674.0 335.9L1675.0 339.6L1676.0 336.5L1677.0 338.0L1678.0 338.2L1679.0 338.3L1680.0 334.2L1681.0 333.5L1682.0 339.0L1683.0 338.1L1684.0 336.6L1685.0 334.9L1686.0 337.8L1687.0 335.1L1688.0 329.9L1689.0 335.3L1690.0 334.4L1691.0 335.5L1692.0 329.8L1693.0 329.9L1694.0 332.8L1695.0 329.5L1696.0 330.8L1697.0 336.6L1698.0 336.0L1699.0 342.7L1700.0 336.5L1701.0 342.1L1702.0 338.2L1703.0 342.9L1704.0 330.0L1705.0 329.5L1706.0 335.2L1707.0 327.2L1708.0 328.0L1709.0 330.9L1710.0 330.6L1711.0 322.3L1712.0 329.6L1713.0 327.6L1714.0 328.4L1715.0 329.3L1716.0 327.6L1717.0 333.4L1718.0 330.3L1719.0 327.6L1720.0 329.3L1721.0 334.1L1722.0 331.5L1723.0 333.7L1724.0 327.0L1725.0 330.0L1726.0 341.1L1727.0 332.1L1728.0 340.5L1729.0 336.3L1730.0 329.5L1731.0 324.7L1732.0 333.3L1733.0 324.7L1734.0 322.3L1735.0 316.4L1736.0 330.4L1737.0 324.9L1738.0 324.3L1739.0 325.7L1740.0 324.5L1741.0 323.6L1742.0 325.3L1743.0 321.6L1744.0 310.2L1745.0 327.2L1746.0 325.8L1747.0 323.4L1748.0 330.8L1749.0 315.9L1750.0 308.1L1751.0 329.2L1752.0 324.0L1753.0 312.9L1754.0 318.7L1755.0 323.8L1756.0 314.6L1757.0 324.5L1758.0 332.2L1759.0 328.4L1760.0 322.3L1761.0 323.2L1762.0 316.9L1763.0 321.7L1764.0 318.9L1765.0 315.6L1766.0 313.1L1767.0 328.8L1768.0 319.8L1769.0 314.3L1770.0 319.3L1771.0 330.7L1772.0 332.9L1773.0 322.9L1774.0 326.9L1775.0 329.6L1776.0 322.7L1777.0 317.5L1778.0 316.3L1779.0 318.5L1780.0 313.9L1781.0 310.6L1782.0 314.9L1783.0 320.7L1784.0 319.5L1785.0 315.6L1786.0 325.8L1787.0 312.0L1788.0 316.2L1789.0 309.9L1790.0 320.2L1791.0 315.9L1792.0 308.1L1793.0 311.5L1794.0 325.7L1795.0 321.4L1796.0 318.7L1797.0 322.1L1798.0 309.6L1799.0 312.8L1800.0 309.0L1801.0 309.0L1802.0 311.7L1803.0 316.0L1804.0 318.1L1805.0 317.3L1806.0 324.9L1807.0 309.1L1808.0 311.0L1809.0 313.0L1810.0 306.1L1811.0 307.8L1812.0 310.7L1813.0 303.6L1814.0 310.4L1815.0 314.5L1816.0 308.2L1817.0 307.7L1818.0 322.6L1819.0 320.5L1820.0 327.9L1821.0 325.3L1822.0 328.7L1823.0 331.1L1824.0 326.5L1825.0 316.9L1826.0 306.8L1827.0 294.6L1828.0 295.6L1829.0 302.6L1830.0 306.3L1831.0 301.9L1832.0 302.3L1833.0 297.1L1834.0 297.1L1835.0 297.3L1836.0 308.9L1837.0 295.0L1838.0 308.8L1839.0 301.4L1840.0 308.8L1841.0 307.1L1842.0 311.6L1843.0 314.9L1844.0 306.2L1845.0 305.8L1846.0 308.8L1847.0 306.0L1848.0 311.3L1849.0 305.1L1850.0 305.5L1851.0 307.9L1852.0 303.4L1853.0 310.9L1854.0 296.3L1855.0 305.7L1856.0 307.0L1857.0 300.8L1858.0 300.9L1859.0 308.3L1860.0 301.7L1861.0 299.0L1862.0 306.5L1863.0 321.5L1864.0 315.9L1865.0 327.7L1866.0 328.7L1867.0 320.6L1868.0 323.7L1869.0 314.0L1870.0 313.0L1871.0 306.0L1872.0 305.9L1873.0 296.0L1874.0 301.7L1875.0 301.9L1876.0 303.7L1877.0 290.1L1878.0 291.7L1879.0 295.9L1880.0 299.2L1881.0 301.7L1882.0 302.5L1883.0 311.5L1884.0 305.0L1885.0 305.2L1886.0 299.7L1887.0 309.4L1888.0 311.0L1889.0 312.5L1890.0 309.2L1891.0 311.6L1892.0 315.3L1893.0 301.2L1894.0 290.4L1895.0 305.3L1896.0 305.0L1897.0 300.6L1898.0 299.4L1899.0 314.2L1900.0 298.1L1901.0 293.5L1902.0 297.0L1903.0 301.3L1904.0 295.4L1905.0 296.5L1906.0 299.7L1907.0 296.1L1908.0 298.5L1909.0 305.5L1910.0 305.7L1911.0 315.6L1912.0 312.8L1913.0 324.1L1914.0 314.1L1915.0 315.1L1916.0 303.5L1917.0 305.5L1918.0 294.0L1919.0 307.6L1920.0 299.5L1921.0 302.3L1922.0 290.9L1923.0 293.3L1924.0 299.0L1925.0 293.0L1926.0 305.3L1927.0 297.4L1928.0 304.5L1929.0 307.9L1930.0 307.3L1931.0 312.4L1932.0 304.9L1933.0 307.6L1934.0 308.4L1935.0 298.7L1936.0 298.5L1937.0 296.4L1938.0 298.4L1939.0 301.6L1940.0 296.5L1941.0 289.0L1942.0 301.6L1943.0 302.6L1944.0 306.9L1945.0 305.1L1946.0 312.6L1947.0 297.1L1948.0 295.5L1949.0 300.5L1950.0 292.8L1956.0 292.8"/>
<path stroke="#0004c0" d="M343.8 1355.7L343.8 1042.0L344.0 1044.2L345.0 1044.1L346.0 1042.8L347.0 1038.5L348.0 1046.1L349.0 1043.0L350.0 1038.5L351.0 1038.6L352.0 1048.1L353.0 1045.4L354.0 1041.9L355.0 1033.3L356.0 1040.7L357.0 1044.0L358.0 1035.8L359.0 1030.4L360.0 1040.2L361.0 1029.5L362.0 1044.9L363.0 1038.8L364.0 1034.2L365.0 1042.4L366.0 1040.2L367.0 1043.9L368.0 1027.0L369.0 1042.7L370.0 1032.8L371.0 1035.9L372.0 1040.0L373.0 1042.5L374.0 1026.7L375.0 1041.0L376.0 1031.1L377.0 1036.6L378.0 1034.1L379.0 1031.4L380.0 1034.9L381.0 1032.8L382.0 1023.6L383.0 1024.3L384.0 1041.9L385.0 1027.6L386.0 1026.2L387.0 1025.9L388.0 1037.2L389.0 1021.8L390.0 1023.5L391.0 1030.0L392.0 1027.0L393.0 1026.9L394.0 1028.8L395.0 1023.0L396.0 1033.6L397.0 1033.7L398.0 1019.5L399.0 1031.0L400.0 1022.4L401.0 1028.7L402.0 1032.9L403.0 1020.9L404.0 1023.1L405.0 1028.0L406.0 1027.6L407.0 1017.8L408.0 1024.9L409.0 1027.3L410.0 1025.0L411.0 1024.1L412.0 1017.6L413.0 1019.9L414.0 1021.9L415.0 1022.8L416.0 1015.2L417.0 1003.1L418.0 1019.2L419.0 1022.4L420.0 1005.4L421.0 1026.3L422.0 1012.4L423.0 1008.7L424.0 1009.0L425.0 1003.8L426.0 1003.7L427.0 1010.7L428.0 1001.4L429.0 995.9L430.0 1007.6L431.0 1008.5L432.0 996.6L433.0 1004.3L434.0 997.2L435.0 1004.8L436.0 987.6L437.0 1006.5L438.0 1001.0L439.0 996.0L440.0 1003.4L441.0 994.5L442.0 992.5L443.0 985.6L444.0 994.5L445.0 998.1L446.0 1001.9L447.0 992.2L448.0 987.3L449.0 991.0L450.0 996.0L451.0 990.0L452.0 1000.2L453.0 984.5L454.0 990.0L455.0 995.1L456.0 986.0L457.0 988.4L458.0 983.5L459.0 985.7L460.0 990.8L461.0 989.9L462.0 975.5L463.0 983.2L464.0 988.1L465.0 990.3L466.0 987.2L467.0 982.2L468.0 977.2L469.0 982.2L470.0 973.0L471.0 973.5L472.0 975.5L473.0 981.1L474.0 975.6L475.0 971.4L476.0 980.5L477.0 979.0L478.0 967.8L479.0 971.9L480.0 972.2L481.0 968.5L482.0 975.2L483.0 971.3L484.0 966.8L485.0 971.5L486.0 973.8L487.0 971.7L488.0 975.3L489.0 967.5L490.0 965.4L491.0 974.1L492.0 966.7L493.0 963.4L494.0 962.2L495.0 966.0L496.0 966.8L497.0 959.4L498.0 965.5L499.0 963.7L500.0 966.9L501.0 961.8L502.0 958.3L503.0 964.0L504.0 962.3L505.0 958.1L506.0 956.0L507.0 959.8L508.0 960.3L509.0 962.6L510.0 959.2L511.0 958.3L512.0 953.6L513.0 949.5L514.0 957.2L515.0 949.9L516.0 965.8L517.0 956.5L518.0 951.3L519.0 955.2L520.0 957.5L521.0 957.0L522.0 962.9L523.0 950.8L524.0 954.8L525.0 950.2L526.0 954.5L527.0 952.6L528.0 946.7L529.0 952.3L530.0 951.0L531.0 945.9L532.0 949.8L533.0 958.7L534.0 946.9L535.0 949.4L536.0 954.9L537.0 947.6L538.0 952.7L539.0 950.2L540.0 947.6L541.0 949.0L542.0 951.7L543.0 945.1L544.0 944.1L545.0 945.7L546.0 949.4L547.0 946.5L548.0 945.1L549.0 943.3L550.0 944.2L551.0 941.6L552.0 949.2L553.0 944.2L554.0 943.8L555.0 943.6L556.0 941.0L557.0 936.5L558.0 944.0L559.0 936.7L560.0 939.1L561.0 940.3L562.0 933.4L563.0 936.2L564.0 938.0L565.0 940.5L566.0 937.0L567.0 943.2L568.0 938.2L569.0 939.7L570.0 934.1L571.0 934.5L572.0 932.7L573.0 927.5L574.0 933.2L575.0 929.5L576.0 933.4L577.0 937.5L578.0 938.2L579.0 932.6L580.0 930.3L581.0 927.2L582.0 929.6L583.0 930.5L584.0 923.7L585.0 920.6L586.0 922.3L587.0 927.6L588.0 927.1L589.0 920.1L590.0 921.0L591.0 921.0L592.0 919.2L593.0 921.4L594.0 923.5L595.0 921.8L596.0 919.6L597.0 913.6L598.0 916.4L599.0 917.9L600.0 917.0L601.0 918.5L602.0 917.3L603.0 912.5L604.0 911.5L605.0 919.7L606.0 917.8L607.0 916.9L608.0 914.8L609.0 914.4L610.0 911.2L611.0 911.7L612.0 914.0L613.0 908.1L614.0 909.7L615.0 907.9L616.0 905.9L617.0 900.5L618.0 906.2L619.0 908.7L620.0 905.6L621.0 902.8L622.0 904.7L623.0 901.2L624.0 902.2L625.0 900.0L626.0 902.5L627.0 898.8L628.0 895.0L629.0 899.1L630.0 894.9L631.0 896.7L632.0 897.3L633.0 891.1L634.0 890.5L635.0 894.7L636.0 892.7L637.0 888.9L638.0 891.4L639.0 888.8L640.0 889.1L641.0 891.2L642.0 888.9L643.0 883.8L644.0 882.2L645.0 887.6L646.0 887.1L647.0 885.2L648.0 888.5L649.0 883.7L650.0 884.4L651.0 882.5L652.0 882.1L653.0 884.5L654.0 878.7L655.0 876.6L656.0 877.1L657.0 878.2L658.0 880.9L659.0 880.2L660.0 875.0L661.0 876.6L662.0 873.7L663.0 871.1L664.0 871.4L665.0 871.3L666.0 867.4L667.0 870.2L668.0 869.6L669.0 865.8L670.0 866.2L671.0 861.5L672.0 868.4L673.0 867.5L674.0 864.6L675.0 866.5L676.0 861.9L677.0 860.7L678.0 859.3L679.0 858.4L680.0 860.8L681.0 862.1L682.0 859.9L683.0 857.8L684.0 857.9L685.0 855.9L686.0 857.0L687.0 856.1L688.0 856.0L689.0 855.9L690.0 851.2L691.0 853.4L692.0 853.2L693.0 850.3L694.0 853.4L695.0 849.4L696.0 852.8L697.0 849.8L698.0 849.4L699.0 847.8L700.0 847.7L702.0 843.9L704.0 842.6L706.0 839.8L708.0 841.9L710.0 839.2L712.0 839.7L714.0 838.2L716.0 834.3L718.0 835.7L720.0 833.8L722.0 832.6L724.0 831.1L726.0 829.3L728.0 827.9L730.0 828.2L732.0 824.1L734.0 822.6L736.0 821.9L738.0 822.7L740.0 819.4L742.0 821.2L744.0 813.3L746.0 815.3L748.0 814.3L750.0 813.9L752.0 813.7L754.0 810.1L756.0 807.6L758.0 808.5L760.0 808.1L762.0 801.4L764.0 804.1L766.0 802.8L768.0 800.1L770.0 799.3L772.0 799.1L774.0 797.7L776.0 795.9L778.0 793.5L780.0 794.4L782.0 792.3L784.0 791.9L786.0 789.6L788.0 789.1L790.0 788.6L792.0 786.5L794.0 786.0L796.0 782.2L798.0 783.3L800.0 781.9L802.0 779.6L804.0 779.0L806.0 774.5L808.0 777.1L810.0 775.2L812.0 771.3L814.0 773.5L816.0 770.4L818.0 770.4L820.0 768.3L822.0 767.7L824.0 765.9L826.0 764.5L828.0 764.5L830.0 764.0L832.0 758.9L834.0 760.5L836.0 758.6L838.0 756.6L840.0 758.5L842.0 756.8L844.0 752.8L846.0 751.5L848.0 752.8L850.0 749.7L852.0 748.6L854.0 745.2L856.0 746.6L858.0 747.5L860.0 744.2L862.0 743.4L864.0 744.9L866.0 742.2L868.0 741.4L870.0 738.9L872.0 738.4L874.0 733.3L876.0 733.1L878.0 730.6L880.0 734.2L882.0 730.4L884.0 729.0L886.0 726.9L888.0 725.4L890.0 721.7L892.0 726.9L894.0 722.6L896.0 721.7L898.0 718.4L900.0 718.4L902.0 717.8L904.0 716.1L906.0 715.7L908.0 712.8L910.0 713.2L912.0 713.0L914.0 711.3L916.0 709.8L918.0 708.1L920.0 705.9L922.0 707.0L924.0 704.7L926.0 702.7L928.0 703.7L930.0 699.3L932.0 699.4L934.0 699.9L936.0 699.1L938.0 696.2L940.0 695.5L942.0 695.3L944.0 693.2L946.0 691.1L948.0 691.5L950.0 690.1L952.0 688.9L954.0 688.8L956.0 686.8L958.0 684.8L960.0 684.3L962.0 685.4L964.0 680.9L966.0 680.2L968.0 678.5L970.0 678.9L972.0 675.9L974.0 677.3L976.0 676.6L978.0 673.5L980.0 672.5L982.0 670.6L984.0 671.3L986.0 668.6L988.0 668.2L990.0 667.1L992.0 665.5L994.0 666.2L996.0 666.2L998.0 659.7L1000.0 660.2L1002.0 660.6L1004.0 657.7L1006.0 657.0L1008.0 656.9L1010.0 657.1L1012.0 655.5L1014.0 652.3L1016.0 651.7L1018.0 650.0L1020.0 649.0L1022.0 646.6L1024.0 644.8L1026.0 645.5L1028.0 646.2L1030.0 644.7L1032.0 640.3L1034.0 641.0L1036.0 639.6L1038.0 639.6L1040.0 637.2L1042.0 638.5L1044.0 636.0L1046.0 635.8L1048.0 635.1L1050.0 630.3L1052.0 631.5L1054.0 632.9L1056.0 629.9L1058.0 630.0L1060.0 628.0L1062.0 625.8L1064.0 625.6L1066.0 625.4L1068.0 624.6L1070.0 623.6L1072.0 619.2L1074.0 620.7L1076.0 616.9L1078.0 617.0L1080.0 615.8L1082.0 615.6L1084.0 614.5L1086.0 614.8L1088.0 611.4L1090.0 612.4L1092.0 610.9L1094.0 609.4L1096.0 606.8L1098.0 608.0L1100.0 606.7L1102.0 606.4L1104.0 604.4L1106.0 603.2L1108.0 603.0L1110.0 602.2L1112.0 601.5L1114.0 602.0L1116.0 597.9L1118.0 600.4L1120.0 593.4L1122.0 597.4L1124.0 594.2L1126.0 597.0L1128.0 592.2L1130.0 594.0L1132.0 590.3L1134.0 589.1L1136.0 590.7L1138.0 589.9L1140.0 586.9L1142.0 589.8L1144.0 585.1L1146.0 586.3L1148.0 581.9L1150.0 581.0L1152.0 581.1L1154.0 578.7L1156.0 579.6L1158.0 575.2L1160.0 577.1L1162.0 575.2L1164.0 573.9L1166.0 574.4L1168.0 572.7L1170.0 571.2L1172.0 572.0L1174.0 570.4L1176.0 569.5L1178.0 569.6L1180.0 566.8L1182.0 566.9L1184.0 564.2L1186.0 564.6L1188.0 563.4L1190.0 560.9L1192.0 558.9L1194.0 558.4L1196.0 557.7L1198.0 558.6L1200.0 556.7L1202.0 555.5L1204.0 555.5L1206.0 554.9L1208.0 554.8L1210.0 551.5L1212.0 552.2L1214.0 551.3L1216.0 548.5L1218.0 549.3L1220.0 547.1L1222.0 547.5L1224.0 547.7L1226.0 544.3L1228.0 544.6L1230.0 544.0L1232.0 544.3L1234.0 542.4L1236.0 543.1L1238.0 540.7L1240.0 540.5L1242.0 541.1L1244.0 540.2L1246.0 539.3L1248.0 538.3L1250.0 539.1L1252.0 538.7L1254.0 535.6L1256.0 534.5L1258.0 533.1L1260.0 535.9L1262.0 531.7L1264.0 530.2L1266.0 531.4L1268.0 531.8L1270.0 527.9L1272.0 528.8L1274.0 526.4L1276.0 526.5L1278.0 528.5L1280.0 525.9L1282.0 524.5L1284.0 524.4L1286.0 523.7L1288.0 522.5L1292.0 520.0L1295.0 523.0L1298.0 533.0L1300.0 571.8L1303.0 630.0L1306.0 688.2L1309.0 746.3L1312.0 804.5L1315.0 862.7L1318.0 920.9L1321.0 979.1L1324.0 1037.3L1327.0 1095.4L1330.0 1153.6L1333.0 1211.8L1336.0 1270.0L1338.0 1265.0L1342.0 1152.8L1347.0 1018.8L1351.0 941.0L1352.5 935.0L1354.0 947.0L1358.0 1042.2L1362.0 1122.0L1365.0 1130.0L1372.0 1102.7L1385.0 1019.2L1391.0 935.6L1400.0 825.6L1414.0 698.4L1428.0 616.7L1441.0 538.5L1449.0 484.0L1452.0 487.0L1458.0 495.0L1465.0 501.0L1474.0 489.0L1486.0 471.5L1500.0 453.9L1501.0 452.6L1502.0 453.4L1503.0 452.3L1504.0 448.6L1505.0 451.0L1506.0 454.2L1507.0 450.9L1508.0 451.2L1509.0 446.4L1510.0 444.0L1511.0 444.1L1512.0 447.7L1513.0 442.4L1514.0 442.5L1515.0 445.8L1516.0 443.0L1517.0 442.5L1518.0 446.1L1519.0 446.7L1520.0 446.6L1521.0 447.5L1522.0 444.9L1523.0 443.5L1524.0 442.2L1525.0 435.2L1526.0 435.8L1527.0 433.2L1528.0 436.6L1529.0 436.0L1530.0 436.1L1531.0 435.8L1532.0 436.2L1533.0 435.4L1534.0 431.4L1535.0 434.6L1536.0 430.6L1537.0 436.4L1538.0 431.2L1539.0 431.1L1540.0 426.8L1541.0 430.2L1542.0 429.3L1543.0 423.3L1544.0 424.4L1545.0 424.1L1546.0 423.4L1547.0 427.4L1548.0 428.8L1549.0 422.0L1550.0 426.2L1551.0 423.6L1552.0 426.2L1553.0 418.8L1554.0 421.8L1555.0 424.5L1556.0 419.7L1557.0 423.8L1558.0 420.3L1559.0 423.2L1560.0 422.0L1561.0 420.2L1562.0 418.9L1563.0 420.1L1564.0 422.4L1565.0 420.0L1566.0 418.2L1567.0 425.8L1568.0 415.7L1569.0 418.0L1570.0 419.4L1571.0 416.4L1572.0 418.3L1573.0 417.0L1574.0 416.5L1575.0 421.0L1576.0 418.8L1577.0 419.8L1578.0 422.8L1579.0 416.5L1580.0 418.0L1581.0 416.6L1582.0 416.5L1583.0 415.2L1584.0 413.7L1585.0 411.2L1586.0 413.7L1587.0 414.2L1588.0 412.6L1589.0 410.8L1590.0 414.5L1591.0 410.3L1592.0 413.3L1593.0 411.5L1594.0 408.1L1595.0 414.2L1596.0 412.5L1597.0 411.7L1598.0 408.3L1599.0 410.7L1600.0 411.4L1601.0 409.3L1602.0 414.0L1603.0 407.2L1604.0 413.2L1605.0 407.6L1606.0 408.0L1607.0 408.0L1608.0 411.2L1609.0 408.4L1610.0 408.3L1611.0 408.0L1612.0 406.4L1613.0 407.2L1614.0 407.0L1615.0 408.3L1616.0 408.2L1617.0 404.0L1618.0 407.1L1619.0 410.2L1620.0 406.1L1621.0 406.3L1622.0 404.6L1623.0 403.9L1624.0 404.7L1625.0 401.7L1626.0 403.2L1627.0 400.1L1628.0 404.6L1629.0 400.8L1630.0 405.4L1631.0 406.1L1632.0 400.9L1633.0 405.1L1634.0 402.8L1635.0 406.3L1636.0 402.4L1637.0 402.2L1638.0 401.8L1639.0 404.8L1640.0 398.0L1641.0 406.6L1642.0 407.7L1643.0 408.2L1644.0 408.8L1645.0 411.3L1646.0 410.7L1647.0 411.0L1648.0 403.6L1649.0 398.9L1650.0 397.7L1651.0 398.0L1652.0 397.3L1653.0 401.0L1654.0 403.5L1655.0 398.9L1656.0 394.2L1657.0 399.8L1658.0 395.2L1659.0 396.2L1660.0 397.2L1661.0 396.1L1662.0 394.3L1663.0 394.2L1664.0 395.7L1665.0 395.1L1666.0 397.8L1667.0 386.2L1668.0 391.5L1669.0 392.4L1670.0 395.7L1671.0 394.4L1672.0 395.7L1673.0 388.9L1674.0 391.5L1675.0 393.2L1676.0 391.3L1677.0 389.7L1678.0 391.0L1679.0 394.1L1680.0 382.6L1681.0 392.8L1682.0 389.1L1683.0 385.6L1684.0 389.2L1685.0 386.1L1686.0 389.3L1687.0 382.5L1688.0 387.8L1689.0 382.2L1690.0 386.2L1691.0 386.6L1692.0 383.5L1693.0 386.8L1694.0 383.1L1695.0 388.3L1696.0 383.1L1697.0 385.8L1698.0 390.0L1699.0 391.5L1700.0 389.6L1701.0 395.1L1702.0 389.9L1703.0 389.6L1704.0 378.3L1705.0 378.5L1706.0 382.0L1707.0 379.0L1708.0 382.3L1709.0 384.5L1710.0 386.5L1711.0 387.4L1712.0 384.5L1713.0 378.1L1714.0 383.8L1715.0 379.6L1716.0 384.3L1717.0 377.0L1718.0 387.4L1719.0 383.0L1720.0 379.5L1721.0 375.1L1722.0 381.9L1723.0 377.3L1724.0 380.0L1725.0 379.7L1726.0 383.2L1727.0 390.8L1728.0 396.0L1729.0 384.6L1730.0 388.0L1731.0 389.2L1732.0 384.1L1733.0 379.3L1734.0 386.9L1735.0 373.5L1736.0 378.5L1737.0 374.6L1738.0 375.9L1739.0 366.5L1740.0 380.4L1741.0 375.7L1742.0 372.2L1743.0 383.4L1744.0 374.3L1745.0 372.6L1746.0 371.3L1747.0 380.0L1748.0 374.7L1749.0 373.0L1750.0 368.3L1751.0 369.9L1752.0 375.6L1753.0 374.0L1754.0 364.4L1755.0 369.2L1756.0 373.4L1757.0 384.7L1758.0 369.5L1759.0 362.3L1760.0 375.6L1761.0 369.6L1762.0 365.3L1763.0 374.5L1764.0 371.2L1765.0 368.2L1766.0 366.5L1767.0 371.7L1768.0 372.8L1769.0 364.4L1770.0 384.7L1771.0 381.2L1772.0 397.7L1773.0 395.5L1774.0 393.7L1775.0 394.6L1776.0 387.3L1777.0 385.3L1778.0 386.6L1779.0 368.4L1780.0 374.1L1781.0 366.1L1782.0 369.8L1783.0 373.9L1784.0 364.6L1785.0 371.0L1786.0 359.6L1787.0 363.8L1788.0 366.9L1789.0 372.6L1790.0 371.4L1791.0 364.0L1792.0 367.6L1793.0 368.3L1794.0 368.6L1795.0 383.0L1796.0 390.5L1797.0 391.0L1798.0 382.1L1799.0 379.5L1800.0 371.3L1801.0 365.4L1802.0 366.1L1803.0 369.3L1804.0 366.3L1805.0 361.8L1806.0 369.5L1807.0 369.0L1808.0 362.0L1809.0 363.6L1810.0 363.9L1811.0 356.8L1812.0 365.4L1813.0 367.7L1814.0 373.1L1815.0 365.3L1816.0 381.8L1817.0 397.6L1818.0 412.3L1819.0 420.8L1820.0 418.7L1821.0 424.8L1822.0 425.3L1823.0 408.4L1824.0 415.0L1825.0 396.1L1826.0 385.6L1827.0 363.0L1828.0 362.4L1829.0 362.9L1830.0 364.6L1831.0 367.0L1832.0 361.3L1833.0 357.4L1834.0 359.5L1835.0 357.8L1836.0 365.5L1837.0 357.9L1838.0 369.3L1839.0 363.5L1840.0 362.4L1841.0 368.8L1842.0 365.1L1843.0 367.8L1844.0 374.8L1845.0 375.3L1846.0 366.5L1847.0 380.3L1848.0 367.8L1849.0 355.0L1850.0 359.8L1851.0 364.6L1852.0 361.4L1853.0 364.2L1854.0 370.8L1855.0 364.7L1856.0 368.9L1857.0 363.8L1858.0 357.7L1859.0 367.1L1860.0 356.7L1861.0 380.3L1862.0 391.9L1863.0 395.3L1864.0 402.6L1865.0 408.9L1866.0 411.7L1867.0 414.7L1868.0 405.4L1869.0 406.8L1870.0 392.2L1871.0 371.7L1872.0 356.0L1873.0 359.7L1874.0 357.2L1875.0 359.6L1876.0 362.6L1877.0 359.9L1878.0 363.7L1879.0 356.0L1880.0 355.9L1881.0 353.7L1882.0 351.4L1883.0 358.2L1884.0 360.7L1885.0 359.5L1886.0 360.4L1887.0 374.4L1888.0 363.8L1889.0 369.8L1890.0 368.7L1891.0 367.0L1892.0 374.9L1893.0 364.7L1894.0 366.1L1895.0 355.9L1896.0 369.9L1897.0 372.2L1898.0 357.6L1899.0 362.4L1900.0 361.3L1901.0 364.7L1902.0 356.4L1903.0 363.7L1904.0 364.9L1905.0 358.9L1906.0 351.0L1907.0 358.6L1908.0 359.9L1909.0 384.0L1910.0 391.0L1911.0 398.8L1912.0 413.0L1913.0 413.6L1914.0 413.1L1915.0 403.7L1916.0 398.4L1917.0 381.5L1918.0 352.6L1919.0 361.5L1920.0 363.9L1921.0 360.9L1922.0 367.6L1923.0 359.0L1924.0 364.8L1925.0 355.7L1926.0 361.7L1927.0 359.1L1928.0 367.9L1929.0 374.2L1930.0 384.8L1931.0 386.4L1932.0 379.5L1933.0 371.5L1934.0 365.1L1935.0 360.7L1936.0 351.3L1937.0 361.6L1938.0 348.3L1939.0 356.9L1940.0 358.5L1941.0 360.9L1942.0 358.1L1943.0 359.7L1944.0 359.1L1945.0 370.6L1946.0 364.8L1947.0 361.1L1948.0 357.0L1949.0 354.8L1950.0 353.2L1956.0 353.2"/>
<path stroke="#48f6f2" d="M343.8 1355.7L343.8 1035.0L344.0 1038.1L345.0 1027.1L346.0 1032.8L347.0 1030.1L348.0 1023.3L349.0 1042.7L350.0 1022.4L351.0 1041.4L352.0 1024.6L353.0 1042.9L354.0 1026.9L355.0 1033.5L356.0 1030.9L357.0 1023.9L358.0 1017.1L359.0 1046.4L360.0 1021.5L361.0 1037.4L362.0 1014.8L363.0 1035.4L364.0 1032.6L365.0 1022.4L366.0 1007.2L367.0 1026.4L368.0 1025.7L369.0 1018.3L370.0 1034.9L371.0 1024.2L372.0 1017.2L373.0 1016.0L374.0 1026.7L375.0 1029.3L376.0 1023.4L377.0 1015.1L378.0 998.9L379.0 989.8L380.0 1027.3L381.0 1005.4L382.0 1023.4L383.0 1006.1L384.0 1010.9L385.0 1019.3L386.0 1018.2L387.0 1009.8L388.0 1006.9L389.0 1013.4L390.0 1022.1L391.0 1009.0L392.0 992.1L393.0 1006.0L394.0 1003.1L395.0 1006.7L396.0 999.8L397.0 1008.7L398.0 989.7L399.0 1009.0L400.0 1011.5L401.0 1004.9L402.0 1012.9L403.0 1008.9L404.0 1000.0L405.0 1000.1L406.0 1002.6L407.0 995.0L408.0 1009.7L409.0 993.5L410.0 988.2L411.0 1010.7L412.0 991.2L413.0 1001.9L414.0 994.7L415.0 1007.0L416.0 1000.9L417.0 988.6L418.0 998.2L419.0 999.1L420.0 997.4L421.0 1004.9L422.0 1003.8L423.0 991.1L424.0 995.9L425.0 995.1L426.0 998.7L427.0 995.5L428.0 997.2L429.0 978.0L430.0 986.7L431.0 984.6L432.0 987.7L433.0 986.3L434.0 984.0L435.0 994.0L436.0 991.3L437.0 984.3L438.0 983.2L439.0 975.2L440.0 985.8L441.0 988.9L442.0 994.2L443.0 991.9L444.0 976.6L445.0 976.8L446.0 987.0L447.0 981.2L448.0 979.4L449.0 975.9L450.0 975.2L451.0 984.0L452.0 977.9L453.0 974.8L454.0 980.1L455.0 976.5L456.0 981.1L457.0 962.7L458.0 960.8L459.0 964.4L460.0 977.5L461.0 969.4L462.0 971.0L463.0 982.6L464.0 966.1L465.0 961.7L466.0 980.8L467.0 967.4L468.0 961.8L469.0 973.7L470.0 974.0L471.0 961.4L472.0 975.7L473.0 965.9L474.0 960.2L475.0 960.7L476.0 970.5L477.0 980.7L478.0 974.7L479.0 970.3L480.0 966.3L481.0 960.2L482.0 957.2L483.0 956.4L484.0 963.5L485.0 952.9L486.0 948.7L487.0 956.2L488.0 959.7L489.0 953.5L490.0 950.3L491.0 958.6L492.0 953.9L493.0 956.3L494.0 949.4L495.0 965.0L496.0 949.9L497.0 952.9L498.0 957.5L499.0 959.5L500.0 961.0L501.0 939.4L502.0 949.1L503.0 953.1L504.0 953.9L505.0 957.6L506.0 943.5L507.0 947.2L508.0 959.2L509.0 957.6L510.0 951.5L511.0 949.2L512.0 949.2L513.0 951.9L514.0 941.5L515.0 955.0L516.0 940.6L517.0 947.2L518.0 933.3L519.0 929.0L520.0 948.0L521.0 941.7L522.0 945.9L523.0 947.3L524.0 948.6L525.0 949.3L526.0 948.9L527.0 936.5L528.0 934.2L529.0 947.6L530.0 946.0L531.0 938.0L532.0 947.7L533.0 941.2L534.0 936.4L535.0 949.4L536.0 936.4L537.0 930.3L538.0 937.8L539.0 950.8L540.0 937.2L541.0 932.3L542.0 933.6L543.0 928.8L544.0 932.6L545.0 932.4L546.0 929.7L547.0 935.7L548.0 933.5L549.0 923.4L550.0 928.9L551.0 927.4L552.0 933.0L553.0 929.0L554.0 924.2L555.0 926.3L556.0 928.1L557.0 926.0L558.0 923.2L559.0 926.8L560.0 930.3L561.0 923.5L562.0 921.8L563.0 914.0L564.0 930.7L565.0 929.9L566.0 925.4L567.0 929.3L568.0 918.9L569.0 913.0L570.0 917.6L571.0 912.7L572.0 909.9L573.0 921.0L574.0 914.4L575.0 919.1L576.0 920.5L577.0 909.1L578.0 909.1L579.0 911.8L580.0 910.9L581.0 905.7L582.0 915.0L583.0 906.6L584.0 912.8L585.0 903.0L586.0 905.8L587.0 905.8L588.0 914.2L589.0 902.6L590.0 893.7L591.0 906.7L592.0 894.0L593.0 911.4L594.0 895.0L595.0 897.9L596.0 898.4L597.0 912.0L598.0 895.0L599.0 902.4L600.0 896.0L601.0 901.4L602.0 897.6L603.0 882.6L604.0 895.5L605.0 891.4L606.0 890.0L607.0 887.4L608.0 888.5L609.0 896.3L610.0 890.2L611.0 887.3L612.0 890.7L613.0 882.2L614.0 878.6L615.0 891.4L616.0 891.7L617.0 890.7L618.0 888.3L619.0 884.9L620.0 887.3L621.0 884.5L622.0 888.6L623.0 881.1L624.0 877.0L625.0 875.4L626.0 880.2L627.0 878.6L628.0 874.3L629.0 883.6L630.0 872.8L631.0 882.4L632.0 873.2L633.0 870.9L634.0 873.5L635.0 881.2L636.0 871.6L637.0 872.2L638.0 870.8L639.0 871.2L640.0 868.1L641.0 873.1L642.0 871.2L643.0 874.4L644.0 864.4L645.0 865.8L646.0 867.2L647.0 865.5L648.0 864.3L649.0 862.5L650.0 865.4L651.0 863.2L652.0 868.3L653.0 866.3L654.0 861.1L655.0 854.4L656.0 861.1L657.0 862.5L658.0 858.6L659.0 861.0L660.0 860.4L661.0 856.0L662.0 856.2L663.0 859.8L664.0 854.7L665.0 846.6L666.0 850.0L667.0 849.0L668.0 850.2L669.0 855.6L670.0 847.3L671.0 850.8L672.0 851.5L673.0 843.8L674.0 847.4L675.0 849.3L676.0 847.4L677.0 848.0L678.0 844.2L679.0 845.2L680.0 846.4L681.0 842.8L682.0 843.2L683.0 843.9L684.0 841.1L685.0 840.5L686.0 840.4L687.0 842.8L688.0 841.2L689.0 837.9L690.0 838.7L691.0 837.8L692.0 837.5L693.0 835.7L694.0 838.0L695.0 835.2L696.0 836.0L697.0 832.0L698.0 834.0L699.0 833.2L700.0 834.1L702.0 827.7L704.0 830.1L706.0 829.3L708.0 826.4L710.0 826.9L712.0 826.6L714.0 823.8L716.0 822.4L718.0 822.0L720.0 819.4L722.0 818.9L724.0 817.0L726.0 814.2L728.0 812.2L730.0 813.7L732.0 811.5L734.0 808.5L736.0 808.1L738.0 808.8L740.0 803.3L742.0 803.2L744.0 804.0L746.0 802.9L748.0 798.9L750.0 797.8L752.0 797.8L754.0 798.0L756.0 794.7L758.0 790.5L760.0 793.5L762.0 790.9L764.0 788.9L766.0 786.4L768.0 788.0L770.0 785.5L772.0 784.2L774.0 782.7L776.0 781.9L778.0 781.2L780.0 780.8L782.0 775.9L784.0 775.5L786.0 773.5L788.0 775.2L790.0 771.1L792.0 768.0L794.0 768.9L796.0 766.7L798.0 765.4L800.0 764.2L802.0 761.9L804.0 759.9L806.0 763.8L808.0 760.0L810.0 757.6L812.0 758.4L814.0 758.2L816.0 753.0L818.0 753.0L820.0 752.6L822.0 750.1L824.0 750.4L826.0 746.8L828.0 746.3L830.0 745.6L832.0 745.2L834.0 743.5L836.0 741.5L838.0 740.6L840.0 737.1L842.0 741.2L844.0 736.5L846.0 735.3L848.0 734.6L850.0 733.5L852.0 732.2L854.0 729.4L856.0 726.7L858.0 727.3L860.0 725.1L862.0 724.4L864.0 723.5L866.0 722.4L868.0 722.6L870.0 719.6L872.0 716.3L874.0 718.1L876.0 717.3L878.0 712.7L880.0 714.2L882.0 712.5L884.0 710.5L886.0 710.0L888.0 709.0L890.0 708.3L892.0 707.9L894.0 704.8L896.0 704.0L898.0 706.1L900.0 700.4L902.0 700.2L904.0 698.5L906.0 698.8L908.0 698.3L910.0 693.6L912.0 695.4L914.0 690.9L916.0 694.6L918.0 688.7L920.0 689.5L922.0 686.6L924.0 686.7L926.0 683.2L928.0 683.1L930.0 681.8L932.0 680.6L934.0 680.0L936.0 677.1L938.0 675.6L940.0 673.1L942.0 673.2L944.0 671.8L946.0 672.5L948.0 670.9L950.0 667.6L952.0 668.2L954.0 668.3L956.0 665.2L958.0 662.8L960.0 666.6L962.0 663.1L964.0 662.1L966.0 663.1L968.0 658.0L970.0 658.4L972.0 654.2L974.0 656.0L976.0 654.8L978.0 652.1L980.0 651.2L982.0 650.7L984.0 649.4L986.0 650.6L988.0 647.0L990.0 646.1L992.0 644.8L994.0 641.7L996.0 641.9L998.0 639.4L1000.0 640.0L1002.0 635.8L1004.0 636.1L1006.0 637.0L1008.0 632.9L1010.0 632.6L1012.0 634.8L1014.0 630.6L1016.0 631.2L1018.0 630.7L1020.0 628.0L1022.0 625.8L1024.0 629.2L1026.0 625.4L1028.0 625.5L1030.0 622.6L1032.0 623.1L1034.0 620.0L1036.0 618.9L1038.0 618.0L1040.0 617.5L1042.0 616.4L1044.0 615.7L1046.0 615.5L1048.0 613.0L1050.0 613.7L1052.0 610.1L1054.0 610.5L1056.0 610.6L1058.0 610.1L1060.0 603.8L1062.0 607.5L1064.0 601.9L1066.0 604.6L1068.0 601.6L1070.0 600.9L1072.0 598.2L1074.0 599.4L1076.0 597.8L1078.0 595.1L1080.0 594.3L1082.0 595.1L1084.0 594.3L1086.0 592.7L1088.0 590.3L1090.0 589.6L1092.0 589.8L1094.0 588.9L1096.0 588.4L1098.0 586.1L1100.0 583.8L1102.0 584.1L1104.0 583.2L1106.0 580.9L1108.0 581.2L1110.0 578.7L1112.0 579.0L1114.0 577.0L1116.0 579.5L1118.0 577.4L1120.0 575.2L1122.0 572.0L1124.0 571.1L1126.0 572.5L1128.0 570.4L1130.0 569.7L1132.0 566.6L1134.0 565.7L1136.0 567.1L1138.0 565.6L1140.0 563.1L1142.0 562.9L1144.0 563.9L1146.0 561.4L1148.0 561.7L1150.0 562.1L1152.0 559.4L1154.0 557.9L1156.0 555.8L1158.0 557.1L1160.0 552.7L1162.0 552.0L1164.0 552.5L1166.0 549.8L1168.0 552.0L1170.0 549.2L1172.0 549.8L1174.0 547.4L1176.0 546.5L1178.0 545.7L1180.0 542.2L1182.0 542.2L1184.0 542.1L1186.0 544.8L1188.0 541.9L1190.0 540.9L1192.0 537.7L1194.0 539.4L1196.0 538.9L1198.0 537.5L1200.0 539.0L1202.0 532.8L1204.0 532.2L1206.0 532.4L1208.0 530.6L1210.0 531.0L1212.0 530.5L1214.0 529.0L1216.0 528.5L1218.0 527.9L1220.0 527.3L1222.0 524.7L1224.0 523.8L1226.0 525.5L1228.0 522.5L1230.0 521.0L1232.0 521.7L1234.0 520.0L1236.0 519.6L1238.0 518.8L1240.0 518.7L1242.0 518.4L1244.0 515.2L1246.0 514.0L1248.0 516.5L1250.0 512.7L1252.0 511.0L1254.0 509.7L1256.0 511.5L1258.0 509.8L1260.0 507.6L1262.0 508.0L1264.0 507.0L1266.0 509.0L1268.0 507.0L1270.0 505.9L1272.0 503.4L1274.0 503.9L1276.0 504.2L1278.0 502.5L1280.0 502.8L1282.0 500.8L1284.0 500.6L1286.0 499.6L1288.0 497.7L1292.0 496.0L1295.0 499.0L1298.0 509.0L1300.0 548.8L1303.0 608.5L1306.0 668.2L1309.0 727.8L1312.0 787.5L1315.0 847.2L1318.0 906.9L1321.0 966.6L1324.0 1026.3L1327.0 1085.9L1330.0 1145.6L1333.0 1205.3L1336.0 1265.0L1338.0 1260.0L1342.0 1146.0L1347.0 1010.0L1351.0 931.0L1352.5 925.0L1354.0 937.0L1358.0 1032.2L1362.0 1112.0L1365.0 1120.0L1372.0 1092.0L1385.0 1006.2L1391.0 920.4L1400.0 807.6L1414.0 677.1L1428.0 593.1L1441.0 512.9L1449.0 457.0L1452.0 460.0L1458.0 463.0L1465.0 469.0L1474.0 457.0L1486.0 440.0L1500.0 421.7L1501.0 424.9L1502.0 421.4L1503.0 416.8L1504.0 417.1L1505.0 420.5L1506.0 420.8L1507.0 418.0L1508.0 415.5L1509.0 417.7L1510.0 419.0L1511.0 416.7L1512.0 412.9L1513.0 416.1L1514.0 414.1L1515.0 414.2L1516.0 414.1L1517.0 414.4L1518.0 414.4L1519.0 413.6L1520.0 415.1L1521.0 415.6L1522.0 416.4L1523.0 409.7L1524.0 408.7L1525.0 404.1L1526.0 406.0L1527.0 404.1L1528.0 398.4L1529.0 405.9L1530.0 402.7L1531.0 401.6L1532.0 400.0L1533.0 400.2L1534.0 399.1L1535.0 400.6L1536.0 399.9L1537.0 398.8L1538.0 398.9L1539.0 395.2L1540.0 397.8L1541.0 396.3L1542.0 397.0L1543.0 396.8L1544.0 394.3L1545.0 398.0L1546.0 396.5L1547.0 393.6L1548.0 397.6L1549.0 396.8L1550.0 389.1L1551.0 387.3L1552.0 389.7L1553.0 391.5L1554.0 392.0L1555.0 390.8L1556.0 389.4L1557.0 391.1L1558.0 390.0L1559.0 388.2L1560.0 389.6L1561.0 391.6L1562.0 387.5L1563.0 386.6L1564.0 386.2L1565.0 389.9L1566.0 388.3L1567.0 388.6L1568.0 385.7L1569.0 385.8L1570.0 387.7L1571.0 384.8L1572.0 387.6L1573.0 385.1L1574.0 387.2L1575.0 389.0L1576.0 390.6L1577.0 392.4L1578.0 387.3L1579.0 390.3L1580.0 383.4L1581.0 381.2L1582.0 378.4L1583.0 384.7L1584.0 385.8L1585.0 379.7L1586.0 380.8L1587.0 380.5L1588.0 377.4L1589.0 380.3L1590.0 380.3L1591.0 378.2L1592.0 376.7L1593.0 378.1L1594.0 378.9L1595.0 374.9L1596.0 377.5L1597.0 378.3L1598.0 372.2L1599.0 377.8L1600.0 380.5L1601.0 373.9L1602.0 379.3L1603.0 375.8L1604.0 377.4L1605.0 375.3L1606.0 373.1L1607.0 370.8L1608.0 378.8L1609.0 370.8L1610.0 372.5L1611.0 375.8L1612.0 373.2L1613.0 372.6L1614.0 368.3L1615.0 371.0L1616.0 369.7L1617.0 368.1L1618.0 372.3L1619.0 373.0L1620.0 369.3L1621.0 369.3L1622.0 370.9L1623.0 371.2L1624.0 367.3L1625.0 371.8L1626.0 371.3L1627.0 369.4L1628.0 367.1L1629.0 370.0L1630.0 369.6L1631.0 371.5L1632.0 366.7L1633.0 370.3L1634.0 365.7L1635.0 366.9L1636.0 365.2L1637.0 364.9L1638.0 367.2L1639.0 363.1L1640.0 366.1L1641.0 367.8L1642.0 371.0L1643.0 371.2L1644.0 374.6L1645.0 370.2L1646.0 373.3L1647.0 374.4L1648.0 371.7L1649.0 362.9L1650.0 359.8L1651.0 360.4L1652.0 365.0L1653.0 359.5L1654.0 360.3L1655.0 360.3L1656.0 361.3L1657.0 358.3L1658.0 361.5L1659.0 361.4L1660.0 362.6L1661.0 358.6L1662.0 361.7L1663.0 363.1L1664.0 359.4L1665.0 358.9L1666.0 351.1L1667.0 359.5L1668.0 361.2L1669.0 359.6L1670.0 357.1L1671.0 358.1L1672.0 364.5L1673.0 354.1L1674.0 355.1L1675.0 360.1L1676.0 357.2L1677.0 348.6L1678.0 355.5L1679.0 356.2L1680.0 352.3L1681.0 356.6L1682.0 355.5L1683.0 348.0L1684.0 355.5L1685.0 360.8L1686.0 359.6L1687.0 349.2L1688.0 347.9L1689.0 352.7L1690.0 353.1L1691.0 347.4L1692.0 349.3L1693.0 357.9L1694.0 353.8L1695.0 357.1L1696.0 352.4L1697.0 360.2L1698.0 356.1L1699.0 357.6L1700.0 355.7L1701.0 350.6L1702.0 355.8L1703.0 348.2L1704.0 349.0L1705.0 351.9L1706.0 351.8L1707.0 352.6L1708.0 348.6L1709.0 350.2L1710.0 356.6L1711.0 350.1L1712.0 350.9L1713.0 337.2L1714.0 344.1L1715.0 356.3L1716.0 344.6L1717.0 342.3L1718.0 353.8L1719.0 340.9L1720.0 353.7L1721.0 347.5L1722.0 344.3L1723.0 335.2L1724.0 354.8L1725.0 338.9L1726.0 344.8L1727.0 358.1L1728.0 346.8L1729.0 356.8L1730.0 352.8L1731.0 350.2L1732.0 343.5L1733.0 343.7L1734.0 346.7L1735.0 339.3L1736.0 349.0L1737.0 345.9L1738.0 347.6L1739.0 345.4L1740.0 347.3L1741.0 346.6L1742.0 349.2L1743.0 346.0L1744.0 345.5L1745.0 337.3L1746.0 332.3L1747.0 343.0L1748.0 348.5L1749.0 337.0L1750.0 332.5L1751.0 338.5L1752.0 343.5L1753.0 345.9L1754.0 339.2L1755.0 334.1L1756.0 340.4L1757.0 343.9L1758.0 338.6L1759.0 344.9L1760.0 335.7L1761.0 344.1L1762.0 348.4L1763.0 332.2L1764.0 333.2L1765.0 342.3L1766.0 357.5L1767.0 341.9L1768.0 338.4L1769.0 345.8L1770.0 343.7L1771.0 339.5L1772.0 346.6L1773.0 361.7L1774.0 344.4L1775.0 344.8L1776.0 356.0L1777.0 348.4L1778.0 349.8L1779.0 329.3L1780.0 331.0L1781.0 334.0L1782.0 328.7L1783.0 334.5L1784.0 334.3L1785.0 340.4L1786.0 334.2L1787.0 331.9L1788.0 337.2L1789.0 341.4L1790.0 340.7L1791.0 336.4L1792.0 331.9L1793.0 331.9L1794.0 329.9L1795.0 340.7L1796.0 341.9L1797.0 352.1L1798.0 342.9L1799.0 343.5L1800.0 344.2L1801.0 321.4L1802.0 328.8L1803.0 331.6L1804.0 333.4L1805.0 325.6L1806.0 337.6L1807.0 337.3L1808.0 335.0L1809.0 335.5L1810.0 325.1L1811.0 338.2L1812.0 327.1L1813.0 319.9L1814.0 332.2L1815.0 333.9L1816.0 353.1L1817.0 368.4L1818.0 387.9L1819.0 405.6L1820.0 398.1L1821.0 421.7L1822.0 418.5L1823.0 404.2L1824.0 399.3L1825.0 376.0L1826.0 348.7L1827.0 333.0L1828.0 332.1L1829.0 323.6L1830.0 321.1L1831.0 323.7L1832.0 335.7L1833.0 327.2L1834.0 345.3L1835.0 324.5L1836.0 331.7L1837.0 330.2L1838.0 326.4L1839.0 332.4L1840.0 322.4L1841.0 327.6L1842.0 324.9L1843.0 322.0L1844.0 337.6L1845.0 331.3L1846.0 329.7L1847.0 338.6L1848.0 331.3L1849.0 330.2L1850.0 338.1L1851.0 328.8L1852.0 330.5L1853.0 320.8L1854.0 332.5L1855.0 332.1L1856.0 321.3L1857.0 331.6L1858.0 329.6L1859.0 326.5L1860.0 328.5L1861.0 362.9L1862.0 361.2L1863.0 376.9L1864.0 388.6L1865.0 392.7L1866.0 384.4L1867.0 396.9L1868.0 392.7L1869.0 387.6L1870.0 360.6L1871.0 339.5L1872.0 330.1L1873.0 321.0L1874.0 326.1L1875.0 323.3L1876.0 326.6L1877.0 323.2L1878.0 330.2L1879.0 320.1L1880.0 339.8L1881.0 330.1L1882.0 321.6L1883.0 320.1L1884.0 324.7L1885.0 323.0L1886.0 320.3L1887.0 339.0L1888.0 340.5L1889.0 330.2L1890.0 340.6L1891.0 336.4L1892.0 338.5L1893.0 326.4L1894.0 337.6L1895.0 325.2L1896.0 335.9L1897.0 320.4L1898.0 331.4L1899.0 322.9L1900.0 333.0L1901.0 321.4L1902.0 315.9L1903.0 316.4L1904.0 319.0L1905.0 327.2L1906.0 326.1L1907.0 324.0L1908.0 328.9L1909.0 366.8L1910.0 378.7L1911.0 410.0L1912.0 428.9L1913.0 415.2L1914.0 411.3L1915.0 405.4L1916.0 385.4L1917.0 354.0L1918.0 322.4L1919.0 332.1L1920.0 328.1L1921.0 317.6L1922.0 312.1L1923.0 315.4L1924.0 322.8L1925.0 316.9L1926.0 316.7L1927.0 325.8L1928.0 328.2L1929.0 333.6L1930.0 341.1L1931.0 349.4L1932.0 341.0L1933.0 340.3L1934.0 330.1L1935.0 330.1L1936.0 313.4L1937.0 313.6L1938.0 317.5L1939.0 332.5L1940.0 329.6L1941.0 313.9L1942.0 322.1L1943.0 331.5L1944.0 330.7L1945.0 336.0L1946.0 326.9L1947.0 317.1L1948.0 326.6L1949.0 325.2L1950.0 308.4L1956.0 308.4"/>
<path stroke="#ff8000" d="M343.8 1355.7L343.8 1065.0L344.0 1068.9L345.0 1072.2L346.0 1059.4L347.0 1062.5L348.0 1058.0L349.0 1054.5L350.0 1087.7L351.0 1083.8L352.0 1064.1L353.0 1083.4L354.0 1069.4L355.0 1062.3L356.0 1068.5L357.0 1055.8L358.0 1058.0L359.0 1066.5L360.0 1055.6L361.0 1056.8L362.0 1069.7L363.0 1052.6L364.0 1045.8L365.0 1046.4L366.0 1055.6L367.0 1052.2L368.0 1051.7L369.0 1044.2L370.0 1055.7L371.0 1042.0L372.0 1046.2L373.0 1034.8L374.0 1050.5L375.0 1056.1L376.0 1044.4L377.0 1040.1L378.0 1050.4L379.0 1053.0L380.0 1072.3L381.0 1054.5L382.0 1041.1L383.0 1043.3L384.0 1047.1L385.0 1043.4L386.0 1050.8L387.0 1046.5L388.0 1050.5L389.0 1038.8L390.0 1041.0L391.0 1051.0L392.0 1033.9L393.0 1035.3L394.0 1046.4L395.0 1039.2L396.0 1039.3L397.0 1036.2L398.0 1042.5L399.0 1039.2L400.0 1041.7L401.0 1035.6L402.0 1040.5L403.0 1032.3L404.0 1034.5L405.0 1034.0L406.0 1045.5L407.0 1031.0L408.0 1033.4L409.0 1038.0L410.0 1033.9L411.0 1037.5L412.0 1031.1L413.0 1039.4L414.0 1037.2L415.0 1039.3L416.0 1037.3L417.0 1032.5L418.0 1019.2L419.0 1032.6L420.0 1023.5L421.0 1034.8L422.0 1028.0L423.0 1025.6L424.0 1028.7L425.0 1053.1L426.0 1028.3L427.0 1035.0L428.0 1029.3L429.0 1022.9L430.0 1032.2L431.0 1022.1L432.0 1041.2L433.0 1028.1L434.0 1041.6L435.0 1025.1L436.0 1041.2L437.0 1023.3L438.0 1018.8L439.0 1013.2L440.0 1025.6L441.0 1028.1L442.0 1022.1L443.0 1015.5L444.0 1019.6L445.0 1011.4L446.0 1012.7L447.0 1020.6L448.0 1012.0L449.0 1012.4L450.0 1010.9L451.0 1019.2L452.0 1022.0L453.0 1018.9L454.0 1029.3L455.0 1010.5L456.0 1029.0L457.0 1015.4L458.0 1010.7L459.0 1010.3L460.0 1016.7L461.0 1002.7L462.0 999.5L463.0 1006.7L464.0 1008.7L465.0 1006.8L466.0 1003.2L467.0 1005.8L468.0 1012.5L469.0 1005.0L470.0 1019.0L471.0 1006.7L472.0 1007.8L473.0 1001.3L474.0 1014.5L475.0 1000.5L476.0 997.7L477.0 995.9L478.0 1002.6L479.0 994.6L480.0 1001.4L481.0 1001.1L482.0 1003.7L483.0 1004.3L484.0 1000.9L485.0 998.3L486.0 992.6L487.0 1002.6L488.0 994.7L489.0 1001.6L490.0 993.9L491.0 995.6L492.0 1010.5L493.0 998.7L494.0 997.6L495.0 1000.6L496.0 1001.4L497.0 1010.9L498.0 997.2L499.0 996.6L500.0 994.3L501.0 993.9L502.0 989.6L503.0 989.7L504.0 996.3L505.0 990.1L506.0 994.0L507.0 986.7L508.0 986.0L509.0 994.7L510.0 990.1L511.0 993.4L512.0 978.8L513.0 987.0L514.0 989.3L515.0 986.7L516.0 982.5L517.0 987.0L518.0 985.4L519.0 979.9L520.0 980.5L521.0 984.7L522.0 988.3L523.0 981.2L524.0 991.3L525.0 979.3L526.0 988.6L527.0 976.5L528.0 978.3L529.0 975.1L530.0 981.1L531.0 980.0L532.0 980.9L533.0 982.0L534.0 977.5L535.0 977.2L536.0 977.8L537.0 977.3L538.0 971.5L539.0 966.9L540.0 966.2L541.0 979.6L542.0 965.0L543.0 969.1L544.0 970.1L545.0 977.4L546.0 970.4L547.0 965.8L548.0 971.6L549.0 967.2L550.0 970.2L551.0 968.8L552.0 966.4L553.0 977.3L554.0 963.2L555.0 954.1L556.0 960.8L557.0 967.0L558.0 961.3L559.0 970.8L560.0 965.3L561.0 970.2L562.0 965.5L563.0 953.3L564.0 958.4L565.0 959.7L566.0 955.8L567.0 957.1L568.0 954.1L569.0 950.9L570.0 962.7L571.0 953.9L572.0 954.8L573.0 950.8L574.0 957.6L575.0 954.3L576.0 951.1L577.0 949.3L578.0 950.0L579.0 947.6L580.0 950.1L581.0 948.3L582.0 945.4L583.0 946.0L584.0 945.6L585.0 944.8L586.0 947.9L587.0 947.3L588.0 948.5L589.0 940.5L590.0 944.8L591.0 944.3L592.0 942.4L593.0 940.4L594.0 941.2L595.0 942.9L596.0 943.6L597.0 943.6L598.0 938.9L599.0 941.6L600.0 939.4L601.0 931.8L602.0 935.7L603.0 944.2L604.0 936.1L605.0 937.0L606.0 936.0L607.0 931.2L608.0 926.7L609.0 930.6L610.0 930.4L611.0 927.2L612.0 929.8L613.0 928.3L614.0 935.8L615.0 927.7L616.0 925.2L617.0 922.4L618.0 932.5L619.0 925.3L620.0 922.5L621.0 918.4L622.0 920.0L623.0 921.5L624.0 920.4L625.0 919.2L626.0 918.9L627.0 915.1L628.0 918.6L629.0 915.7L630.0 919.5L631.0 922.8L632.0 915.2L633.0 912.9L634.0 915.6L635.0 927.4L636.0 913.8L637.0 910.9L638.0 912.1L639.0 911.9L640.0 913.0L641.0 909.7L642.0 907.8L643.0 911.5L644.0 911.4L645.0 908.9L646.0 908.0L647.0 916.1L648.0 905.9L649.0 906.7L650.0 905.2L651.0 904.0L652.0 905.3L653.0 902.2L654.0 904.8L655.0 903.2L656.0 899.5L657.0 902.1L658.0 900.7L659.0 897.3L660.0 898.9L661.0 901.2L662.0 896.3L663.0 893.3L664.0 895.5L665.0 893.5L666.0 896.5L667.0 902.5L668.0 894.7L669.0 892.9L670.0 894.2L671.0 894.0L672.0 891.5L673.0 890.4L674.0 889.9L675.0 887.6L676.0 889.0L677.0 887.7L678.0 892.3L679.0 884.9L680.0 882.6L681.0 884.7L682.0 884.4L683.0 883.1L684.0 881.9L685.0 880.4L686.0 880.9L687.0 878.8L688.0 878.6L689.0 879.9L690.0 875.7L691.0 875.9L692.0 875.6L693.0 872.9L694.0 873.3L695.0 875.4L696.0 873.9L697.0 872.6L698.0 873.8L699.0 870.3L700.0 873.5L702.0 869.7L704.0 867.9L706.0 868.8L708.0 866.8L710.0 865.0L712.0 863.7L714.0 860.5L716.0 859.1L718.0 860.9L720.0 861.0L722.0 857.6L724.0 857.6L726.0 854.3L728.0 853.3L730.0 853.7L732.0 853.4L734.0 852.2L736.0 851.7L738.0 848.0L740.0 847.8L742.0 847.8L744.0 844.3L746.0 844.1L748.0 843.4L750.0 842.4L752.0 842.4L754.0 840.8L756.0 838.2L758.0 834.4L760.0 837.0L762.0 835.9L764.0 833.9L766.0 832.3L768.0 831.1L770.0 830.8L772.0 827.6L774.0 827.1L776.0 825.0L778.0 824.4L780.0 822.3L782.0 821.1L784.0 818.4L786.0 819.6L788.0 819.9L790.0 813.7L792.0 817.8L794.0 815.3L796.0 813.1L798.0 813.2L800.0 811.5L802.0 810.5L804.0 811.4L806.0 808.8L808.0 807.9L810.0 806.0L812.0 805.1L814.0 803.2L816.0 803.1L818.0 800.9L820.0 802.6L822.0 799.5L824.0 799.6L826.0 799.1L828.0 797.4L830.0 793.6L832.0 795.4L834.0 789.9L836.0 792.8L838.0 786.7L840.0 787.4L842.0 787.2L844.0 785.4L846.0 782.4L848.0 781.8L850.0 783.1L852.0 779.5L854.0 781.3L856.0 780.6L858.0 779.9L860.0 777.5L862.0 775.8L864.0 774.4L866.0 777.4L868.0 774.3L870.0 772.8L872.0 771.8L874.0 771.7L876.0 766.5L878.0 768.9L880.0 765.8L882.0 762.9L884.0 765.9L886.0 762.2L888.0 762.7L890.0 760.3L892.0 759.5L894.0 761.1L896.0 758.2L898.0 757.4L900.0 753.6L902.0 755.4L904.0 752.3L906.0 752.7L908.0 749.7L910.0 750.6L912.0 749.6L914.0 745.6L916.0 746.7L918.0 744.2L920.0 745.9L922.0 743.8L924.0 742.0L926.0 744.6L928.0 740.7L930.0 738.1L932.0 738.3L934.0 736.5L936.0 736.8L938.0 732.8L940.0 735.0L942.0 730.8L944.0 730.0L946.0 728.5L948.0 728.0L950.0 729.6L952.0 726.5L954.0 723.9L956.0 724.0L958.0 723.4L960.0 723.3L962.0 720.7L964.0 720.2L966.0 722.9L968.0 718.2L970.0 717.4L972.0 714.7L974.0 716.3L976.0 713.6L978.0 715.4L980.0 713.5L982.0 712.0L984.0 709.2L986.0 708.2L988.0 707.2L990.0 706.6L992.0 704.9L994.0 703.5L996.0 703.3L998.0 702.1L1000.0 700.6L1002.0 701.0L1004.0 700.0L1006.0 696.7L1008.0 699.2L1010.0 695.8L1012.0 696.0L1014.0 695.7L1016.0 690.5L1018.0 691.8L1020.0 691.2L1022.0 690.5L1024.0 689.1L1026.0 688.4L1028.0 684.3L1030.0 683.9L1032.0 684.6L1034.0 680.1L1036.0 680.5L1038.0 679.9L1040.0 679.7L1042.0 679.2L1044.0 677.5L1046.0 674.8L1048.0 673.9L1050.0 674.3L1052.0 673.4L1054.0 671.9L1056.0 670.6L1058.0 669.4L1060.0 666.7L1062.0 667.3L1064.0 667.5L1066.0 663.9L1068.0 664.6L1070.0 663.7L1072.0 664.7L1074.0 660.8L1076.0 659.7L1078.0 657.7L1080.0 656.6L1082.0 654.9L1084.0 653.8L1086.0 655.7L1088.0 654.0L1090.0 653.1L1092.0 649.7L1094.0 648.4L1096.0 647.8L1098.0 651.1L1100.0 649.9L1102.0 645.6L1104.0 646.8L1106.0 645.7L1108.0 643.4L1110.0 643.1L1112.0 644.3L1114.0 643.2L1116.0 642.4L1118.0 640.6L1120.0 639.5L1122.0 639.2L1124.0 637.5L1126.0 638.9L1128.0 636.5L1130.0 635.8L1132.0 634.4L1134.0 632.9L1136.0 632.7L1138.0 631.4L1140.0 629.9L1142.0 630.9L1144.0 631.2L1146.0 627.8L1148.0 626.5L1150.0 624.7L1152.0 622.4L1154.0 624.0L1156.0 622.9L1158.0 620.0L1160.0 620.2L1162.0 618.0L1164.0 620.2L1166.0 617.3L1168.0 617.0L1170.0 617.5L1172.0 611.5L1174.0 613.8L1176.0 612.4L1178.0 611.0L1180.0 610.5L1182.0 611.1L1184.0 607.9L1186.0 607.1L1188.0 609.3L1190.0 607.3L1192.0 605.6L1194.0 605.3L1196.0 603.9L1198.0 602.3L1200.0 601.7L1202.0 601.6L1204.0 599.7L1206.0 597.2L1208.0 598.5L1210.0 598.2L1212.0 597.1L1214.0 597.7L1216.0 596.6L1218.0 596.9L1220.0 594.8L1222.0 593.6L1224.0 594.0L1226.0 593.5L1228.0 591.2L1230.0 590.1L1232.0 592.2L1234.0 589.1L1236.0 589.5L1238.0 587.6L1240.0 587.7L1242.0 588.7L1244.0 588.5L1246.0 584.2L1248.0 583.4L1250.0 580.5L1252.0 585.0L1254.0 585.6L1256.0 583.1L1258.0 581.7L1260.0 582.5L1262.0 579.7L1264.0 581.1L1266.0 581.4L1268.0 580.6L1270.0 579.3L1272.0 577.2L1274.0 576.6L1276.0 575.3L1278.0 578.1L1280.0 576.8L1282.0 574.8L1284.0 574.0L1286.0 573.7L1288.0 571.9L1290.0 571.0L1294.0 572.0L1298.0 585.0L1304.0 660.0L1309.0 752.0L1319.0 944.0L1328.5 1136.0L1334.0 1262.0L1337.0 1302.0L1340.0 1262.0L1343.0 1136.0L1350.0 992.0L1352.5 959.0L1355.0 990.0L1357.0 1040.0L1362.0 1184.0L1366.0 1150.0L1372.0 1110.0L1386.0 995.0L1394.0 930.0L1401.0 848.0L1411.0 760.0L1421.0 705.0L1432.0 650.0L1442.0 610.0L1447.0 570.0L1451.0 546.0L1457.0 550.0L1464.0 554.0L1471.0 549.0L1484.0 535.0L1494.0 524.0L1500.0 519.7L1501.0 514.5L1502.0 516.6L1503.0 515.5L1504.0 514.4L1505.0 515.6L1506.0 511.4L1507.0 514.4L1508.0 509.7L1509.0 511.5L1510.0 507.8L1511.0 508.9L1512.0 506.8L1513.0 509.7L1514.0 503.9L1515.0 504.1L1516.0 507.2L1517.0 505.6L1518.0 507.0L1519.0 507.8L1520.0 506.4L1521.0 508.6L1522.0 508.6L1523.0 508.2L1524.0 504.7L1525.0 501.6L1526.0 498.7L1527.0 496.2L1528.0 496.2L1529.0 499.3L1530.0 495.2L1531.0 497.0L1532.0 489.9L1533.0 491.2L1534.0 489.5L1535.0 491.0L1536.0 487.9L1537.0 486.3L1538.0 487.9L1539.0 483.5L1540.0 486.6L1541.0 488.1L1542.0 484.0L1543.0 485.9L1544.0 483.4L1545.0 483.6L1546.0 484.1L1547.0 483.6L1548.0 483.1L1549.0 479.7L1550.0 483.5L1551.0 481.0L1552.0 479.0L1553.0 482.4L1554.0 478.9L1555.0 482.7L1556.0 480.8L1557.0 478.5L1558.0 478.1L1559.0 477.5L1560.0 477.4L1561.0 477.2L1562.0 480.3L1563.0 477.8L1564.0 477.4L1565.0 477.9L1566.0 476.3L1567.0 474.0L1568.0 473.0L1569.0 478.3L1570.0 475.4L1571.0 478.7L1572.0 478.5L1573.0 474.5L1574.0 477.8L1575.0 477.2L1576.0 478.7L1577.0 479.6L1578.0 478.5L1579.0 480.0L1580.0 474.6L1581.0 473.7L1582.0 472.1L1583.0 472.2L1584.0 473.8L1585.0 466.3L1586.0 471.3L1587.0 467.7L1588.0 469.0L1589.0 468.2L1590.0 467.8L1591.0 466.5L1592.0 463.9L1593.0 473.1L1594.0 470.2L1595.0 467.3L1596.0 464.3L1597.0 469.0L1598.0 470.2L1599.0 468.2L1600.0 463.4L1601.0 466.2L1602.0 467.0L1603.0 466.6L1604.0 469.2L1605.0 464.3L1606.0 464.9L1607.0 460.8L1608.0 467.0L1609.0 465.1L1610.0 462.8L1611.0 459.7L1612.0 464.4L1613.0 460.0L1614.0 460.3L1615.0 458.3L1616.0 458.9L1617.0 459.7L1618.0 459.7L1619.0 463.3L1620.0 462.6L1621.0 460.7L1622.0 459.0L1623.0 459.2L1624.0 456.3L1625.0 460.2L1626.0 457.2L1627.0 457.3L1628.0 458.5L1629.0 456.4L1630.0 455.3L1631.0 459.5L1632.0 453.5L1633.0 454.2L1634.0 453.5L1635.0 454.4L1636.0 456.1L1637.0 450.1L1638.0 454.2L1639.0 457.5L1640.0 456.6L1641.0 460.6L1642.0 461.9L1643.0 464.8L1644.0 463.9L1645.0 460.8L1646.0 464.2L1647.0 464.4L1648.0 459.9L1649.0 455.6L1650.0 452.7L1651.0 450.9L1652.0 451.8L1653.0 449.1L1654.0 446.3L1655.0 450.5L1656.0 451.3L1657.0 448.2L1658.0 450.9L1659.0 451.3L1660.0 445.1L1661.0 455.4L1662.0 451.4L1663.0 449.4L1664.0 447.2L1665.0 446.0L1666.0 456.9L1667.0 447.5L1668.0 450.3L1669.0 446.4L1670.0 447.1L1671.0 449.6L1672.0 445.4L1673.0 447.0L1674.0 445.9L1675.0 447.1L1676.0 448.1L1677.0 443.9L1678.0 447.4L1679.0 442.1L1680.0 441.3L1681.0 442.6L1682.0 441.7L1683.0 444.5L1684.0 433.5L1685.0 436.3L1686.0 435.3L1687.0 446.2L1688.0 444.1L1689.0 439.9L1690.0 442.7L1691.0 434.9L1692.0 439.9L1693.0 445.6L1694.0 442.8L1695.0 447.9L1696.0 438.3L1697.0 447.6L1698.0 445.1L1699.0 447.1L1700.0 447.0L1701.0 448.2L1702.0 448.4L1703.0 440.5L1704.0 438.1L1705.0 436.5L1706.0 437.6L1707.0 433.5L1708.0 440.5L1709.0 439.3L1710.0 436.8L1711.0 435.8L1712.0 433.4L1713.0 432.0L1714.0 430.6L1715.0 432.2L1716.0 439.4L1717.0 437.6L1718.0 429.0L1719.0 431.4L1720.0 441.5L1721.0 442.4L1722.0 438.4L1723.0 444.4L1724.0 431.0L1725.0 443.2L1726.0 443.3L1727.0 460.4L1728.0 454.6L1729.0 455.4L1730.0 454.6L1731.0 447.3L1732.0 446.0L1733.0 430.1L1734.0 431.6L1735.0 428.9L1736.0 437.1L1737.0 439.4L1738.0 433.9L1739.0 427.6L1740.0 427.1L1741.0 435.3L1742.0 430.6L1743.0 430.6L1744.0 426.3L1745.0 431.5L1746.0 431.2L1747.0 434.1L1748.0 426.1L1749.0 430.3L1750.0 424.5L1751.0 431.6L1752.0 429.8L1753.0 428.3L1754.0 434.1L1755.0 423.9L1756.0 437.2L1757.0 431.9L1758.0 432.3L1759.0 430.4L1760.0 425.7L1761.0 426.6L1762.0 433.4L1763.0 429.3L1764.0 430.7L1765.0 427.1L1766.0 432.4L1767.0 431.6L1768.0 422.1L1769.0 437.5L1770.0 441.6L1771.0 447.7L1772.0 450.4L1773.0 451.6L1774.0 456.7L1775.0 463.5L1776.0 448.0L1777.0 438.8L1778.0 436.5L1779.0 428.3L1780.0 432.1L1781.0 421.9L1782.0 425.7L1783.0 426.2L1784.0 431.8L1785.0 432.0L1786.0 427.1L1787.0 430.6L1788.0 426.0L1789.0 425.6L1790.0 414.7L1791.0 420.3L1792.0 419.0L1793.0 425.8L1794.0 429.4L1795.0 428.0L1796.0 435.7L1797.0 435.8L1798.0 437.1L1799.0 430.1L1800.0 425.6L1801.0 428.8L1802.0 421.9L1803.0 427.2L1804.0 418.3L1805.0 420.8L1806.0 420.7L1807.0 417.7L1808.0 425.2L1809.0 415.8L1810.0 422.9L1811.0 412.1L1812.0 424.8L1813.0 421.6L1814.0 426.5L1815.0 429.8L1816.0 440.6L1817.0 462.8L1818.0 471.8L1819.0 486.1L1820.0 494.7L1821.0 496.4L1822.0 497.7L1823.0 489.7L1824.0 480.7L1825.0 458.2L1826.0 442.8L1827.0 413.4L1828.0 417.5L1829.0 405.9L1830.0 418.8L1831.0 419.4L1832.0 417.0L1833.0 417.3L1834.0 411.0L1835.0 415.3L1836.0 416.3L1837.0 419.8L1838.0 420.8L1839.0 415.7L1840.0 416.9L1841.0 418.8L1842.0 418.4L1843.0 431.3L1844.0 437.9L1845.0 430.5L1846.0 425.0L1847.0 425.5L1848.0 426.2L1849.0 421.7L1850.0 410.6L1851.0 417.7L1852.0 412.7L1853.0 414.3L1854.0 417.8L1855.0 419.8L1856.0 416.5L1857.0 413.8L1858.0 416.3L1859.0 412.3L1860.0 424.9L1861.0 426.3L1862.0 449.1L1863.0 456.7L1864.0 463.0L1865.0 462.1L1866.0 465.5L1867.0 464.9L1868.0 458.8L1869.0 453.3L1870.0 444.4L1871.0 428.4L1872.0 416.5L1873.0 417.7L1874.0 412.5L1875.0 418.5L1876.0 415.7L1877.0 413.7L1878.0 418.2L1879.0 421.1L1880.0 415.3L1881.0 408.4L1882.0 420.5L1883.0 421.6L1884.0 412.2L1885.0 416.0L1886.0 418.6L1887.0 411.8L1888.0 430.8L1889.0 433.0L1890.0 434.4L1891.0 436.2L1892.0 422.1L1893.0 426.3L1894.0 426.2L1895.0 405.5L1896.0 414.2L1897.0 418.9L1898.0 412.8L1899.0 407.5L1900.0 417.2L1901.0 416.2L1902.0 412.1L1903.0 416.1L1904.0 419.6L1905.0 420.4L1906.0 417.7L1907.0 410.2L1908.0 415.0L1909.0 447.9L1910.0 485.8L1911.0 514.8L1912.0 531.1L1913.0 532.2L1914.0 527.3L1915.0 504.8L1916.0 484.2L1917.0 452.3L1918.0 413.2L1919.0 412.9L1920.0 424.9L1921.0 418.9L1922.0 409.9L1923.0 411.7L1924.0 411.9L1925.0 411.6L1926.0 411.6L1927.0 404.4L1928.0 429.9L1929.0 435.2L1930.0 439.8L1931.0 438.9L1932.0 438.9L1933.0 430.7L1934.0 415.9L1935.0 414.2L1936.0 413.6L1937.0 407.3L1938.0 403.3L1939.0 417.7L1940.0 407.4L1941.0 410.6L1942.0 414.2L1943.0 429.4L1944.0 418.2L1945.0 430.0L1946.0 412.4L1947.0 425.1L1948.0 414.3L1949.0 400.2L1950.0 410.3L1956.0 410.3"/>
</g>
<g stroke-width="8.5" stroke-linecap="round">
<line x1="367" y1="116.8" x2="498" y2="116.8" stroke="#303030"/>
<line x1="367" y1="194.6" x2="498" y2="194.6" stroke="#ee0c12"/>
<line x1="367" y1="272.4" x2="498" y2="272.4" stroke="#00e000"/>
<line x1="367" y1="350.2" x2="498" y2="350.2" stroke="#880078"/>
<line x1="367" y1="428.0" x2="498" y2="428.0" stroke="#f41ed8"/>
<line x1="367" y1="505.8" x2="498" y2="505.8" stroke="#48f6f2"/>
<line x1="367" y1="583.6" x2="498" y2="583.6" stroke="#0004c0"/>
<line x1="367" y1="661.4" x2="498" y2="661.4" stroke="#ff8000"/>
</g>
<g font-family="Liberation Serif, 'Times New Roman', serif" font-weight="bold" fill="#000">
<text x="513" y="135.3" font-size="57">theory</text>
<text x="513" y="213.1" font-size="57"><tspan font-weight="normal">β</tspan>=<tspan dx="3">0</tspan></text>
<text x="513" y="290.9" font-size="57"><tspan font-weight="normal">β</tspan>=<tspan dx="3">0.35</tspan></text>
<text x="513" y="368.7" font-size="57"><tspan font-weight="normal">β</tspan>=<tspan dx="3">0.50</tspan></text>
<text x="513" y="446.5" font-size="57"><tspan font-weight="normal">β</tspan>=<tspan dx="3">0.60</tspan></text>
<text x="513" y="524.3" font-size="57"><tspan font-weight="normal">β</tspan>=<tspan dx="3">0.65</tspan></text>
<text x="513" y="602.1" font-size="57"><tspan font-weight="normal">β</tspan>=<tspan dx="3">0.70</tspan></text>
<text x="513" y="679.9" font-size="57"><tspan font-weight="normal">β</tspan>=<tspan dx="3">0.75</tspan></text>
<text x="342.3" y="1445" font-size="86" text-anchor="middle">3.0</text>
<text x="744.5" y="1445" font-size="86" text-anchor="middle">3.5</text>
<text x="1148.3" y="1445" font-size="86" text-anchor="middle">4.0</text>
<text x="1550.5" y="1445" font-size="86" text-anchor="middle">4.5</text>
<text x="1951.3" y="1445" font-size="86" text-anchor="middle">5.0</text>
<text x="316.5" y="1376.9" font-size="86" text-anchor="end">0.0</text>
<text x="316.5" y="950.4" font-size="86" text-anchor="end">0.5</text>
<text x="316.5" y="523.9" font-size="86" text-anchor="end">1.0</text>
<text x="316.5" y="97.4" font-size="86" text-anchor="end">1.5</text>
<text x="857" y="1580" font-size="86">W<tspan dx="0.5">avelength/μ</tspan><tspan dx="-1.5">m</tspan></text>
<text transform="translate(99,964.4) rotate(-90)"><tspan x="1.0" y="0.0" font-size="83" font-style="italic">I</tspan><tspan x="30.4" y="30.0" font-size="83" font-weight="normal">λ</tspan><tspan x="73.0" y="2.0" font-size="88" font-weight="normal">/</tspan><tspan x="96.0" y="2.5" font-size="111" font-weight="normal" stroke="#fff" stroke-width="3">(</tspan><tspan x="133.9" y="0.5" font-size="83">W</tspan><tspan x="216.7" y="2.0" font-size="88" font-weight="normal">/</tspan><tspan x="240.0" y="2.5" font-size="111" font-weight="normal" stroke="#fff" stroke-width="3">(</tspan><tspan x="277.8" y="0.0" font-size="83">s</tspan><tspan x="311.0" y="0.0" font-size="83">r</tspan><tspan x="348.4" y="0.0" font-size="83">·</tspan><tspan x="378.4" y="0.0" font-size="83">μ</tspan><tspan x="426.4" y="0.0" font-size="83">m</tspan><tspan x="492.7" y="2.5" font-size="111" font-weight="normal" stroke="#fff" stroke-width="3">)</tspan><tspan x="527.8" y="2.5" font-size="111" font-weight="normal" stroke="#fff" stroke-width="3">)</tspan></text>
</g>
</svg>
</body></html>
